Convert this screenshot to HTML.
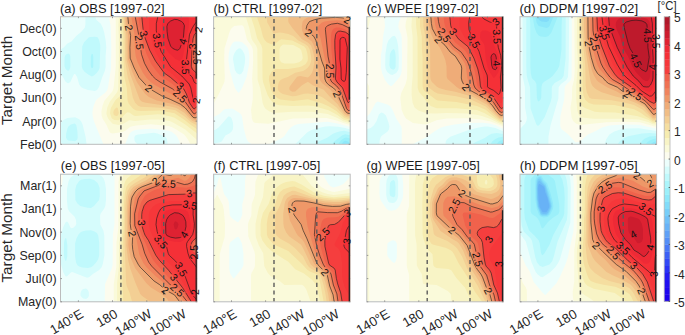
<!DOCTYPE html>
<html><head><meta charset="utf-8"><style>
html,body{margin:0;padding:0;background:#fff;width:685px;height:335px;overflow:hidden}
svg{display:block}
.t{font-family:"Liberation Sans",sans-serif;font-size:12px;fill:#262626}
.ti{font-family:"Liberation Sans",sans-serif;font-size:13.6px;fill:#1a1a1a}
.tm{font-family:"Liberation Sans",sans-serif;font-size:15.3px;fill:#262626}
.ty{font-family:"Liberation Sans",sans-serif;font-size:12.4px;fill:#262626}
.tx{font-family:"Liberation Sans",sans-serif;font-size:13.2px;fill:#262626}
.tc{font-family:"Liberation Sans",sans-serif;font-size:12.6px;fill:#262626}
.cl{font-family:"Liberation Sans",sans-serif;font-size:10.5px;fill:#111}
</style></head><body>
<svg width="685" height="335" viewBox="0 0 685 335">
<defs></defs>
<clipPath id="ca"><rect x="60.5" y="16.7" width="136.6" height="127.6"/></clipPath>
<g clip-path="url(#ca)">
<rect x="60.5" y="16.7" width="136.6" height="127.6" fill="#acf5fb"/>
<path d="M61.5 16.7l135.6 0 0 127.6-136.6 0 0-127.6zM91.6 54.3l-.7 2-.1 8.9 .2 1.9 .9 1.1 1-.5 .4-1.5 0-8.9-.4-3.1-1-.4z" fill="#c0f9fc"/>
<path d="M61.5 16.7l135.6 0 0 127.6-136.6 0 0-127.6zM88.6 37.5l-4.5 4.7-1.9 4.2-.4 19.8 .7 2.9 2.3 3 4.2 3 2.9 1.3 2-.9 3-2.8 1.9-2.6 .8-2 .7-22.7-1-5-1.5-2.9-.9-.5-2-.2-4.9 .2zM66.3 54.3l-.9 1-.8 2-.1 8.9 1.1 2.9 1.8 1.5 1 .2 .9-.8 1.1-2.9-.1-10.8-.8-2-1.1-.8zM70.8 124.5l-2.4 1.9-1 2.1-1.2 4.9-.2 4 .9 2 1.5 1.1 6.8 .8 2-1.9 .5-2-.3-6-1-5.9-1.2-1.7-.9-.2z" fill="#d6fcfc"/>
<path d="M61.5 16.7l23.9 0 0 7.9-.5 3-3.8 4.3-4.9 4.1-4.8 5.4-4 2-3.7 4-3.2 2.2 0-32.9zM95.9 16.7l101.2 0 0 127.6-29.4 0-.9-5.9-1.7-2-7.6-3-3.6-.6-15.8 1.6-2.9 1-.9 2 .2 2.9 .7 1.6 2.1 2.4-50.7 0-1.1-7.9-2.9-11.9-1.4-3-2-2.2-4-2-7.8 .7-4 1.9-2.9 3.7 0-49.3 1.9 1.7 3 5.4 1.9 1.6 1.1 .2 2-1.2 2.9-6.6 1-1.4 .9 0 1.9 3 2.1 7.4 1.8 2.5 2.1 1.3 4.9 1.7 6.9 1.1 2.1-1.1 2-3 3.3-9.9 2.5-5.9 .8-4 0-10.8 .7-8.9-.6-6.7-1.5-8.2-1.5-4.9-1.9-3.9-4.6-4-.8-3zM61.5 143l1.6 1.3-2.6 0 0-2z" fill="#ecfefc"/>
<path d="M61.5 16.7l3.5 0-1.6 1.5-2.9 1.3 0-2.8zM108.7 16.7l88.4 0 0 127.6-17.1 0-.6-3-2.4-4.9-1.8-2-3.7-2.6-3.9-1.2-11.8-1.7-4.9-.2-14.7 1.1-4 1.4-1.6 1.2-1.5 2-4 9.9-21.7 0-9.4-22.8-1.3-4.9-.3-4 .9-5.9 2.4-5.9 1.8-2 8.2-6.5 1.6-2.4 .8-3 2.8-17.8 .4-21.7-.7-21.8z" fill="#fcfcee"/>
<path d="M116.5 16.7l80.6 0 0 127.6-6.6 0-3.2-5.9-3.2-4-7.8-4.9-4.8-2.5-2.9-1-17.7-1.7-14.7 1.3-5.9 1.1-4.9 4.1-3 1.3-9.8 1.5-2-.6-1-1.1-3.3-7.4-3.8-5.9-.9-3-.2-3.9 1.1-6 1.9-4.9 7.5-8.9 1.1-2 .7-3 2-19.8 0-46.4 0-4z" fill="#fafada"/>
<path d="M119.5 16.7l77.6 0 0 123.2-11.8-10.5-12.8-7.2-2.9-1.2-10.8-1.6-8.9 0-14.7 1.5-5.9-.7-5.9 3.6-4.9 1.3-5.9-1.3-3.8-4.2-1.6-3-.8-3 .8-5.9 2.6-5.9 7.5-9.9 .9-3 .6-30.7 0-21.7-.5-10.9 .6-8.9z" fill="#f8f4c6"/>
<path d="M121.4 16.7l75.7 0 0 116.9-11.8-9-10.8-6.8-3.9-1.4-8.9-1.9-3.9-.2-22.6 1.8-2-.8-3.9-2.7-2-.3-1.9 1.4-4.5 4.9-2.4 1.6-3.9-.1-2-1-1-1.1-1.5-4.4 .2-2.9 .7-3 4.5-7.8 5-4.1 1.5-2.9 .6-3-1.3-12.9 .2-39.5-.9-13.9 .2-6.9z" fill="#f6ecb0"/>
<path d="M122.4 16.7l74.7 0 0 112.6-6.9-4.7-5.9-4.8-9.8-6.6-14.7-2.7-18.7 .5-4.9-.4-3.1-1.9-4.3-5-1.2-2.9-.8-12.9-2.4-10.9-1-18.8 0-21.7-1.2-14.9-.1-4.9zM116.5 107.6l1 .2 .5 .9 .8 3.9-.4 2-.9 1.1-1 .4-1.9-.5-1-1.2-.3-1.8 .3-1.6 1-1.8z" fill="#f5dea0"/>
<path d="M123.4 16.7l73.7 0 0 108.9-5.9-3.3-6.9-6.1-8.8-5.9-14.8-2.6-20-1-2.6-1-3-2.9-2.2-5-2.3-10.9-2.9-9.9-2.5-15.8-.4-25.7z" fill="#f3cf94"/>
<path d="M125.4 16.7l71.7 0 0 105.7-2.9-.6-2-1.1-3.6-3.1-4.3-4.8-7.8-4.8-6.9-1.8-23.8-3.4-3.7-1.1-2.3-1.9-9.5-25.4-3.6-14.2-.3-24.7-1.9-18.8z" fill="#f1be86"/>
<path d="M126.3 16.7l70.8 0 0 103-2 .2-1.9-.6-4-3.7-4.9-5.8-5.9-3.7-7.8-2.6-13.8-3.1-7.9-3.3-3.7-3.2-7.1-9.9-1.7-3-4.2-9.6-4.1-12.2-.2-11.8 .4-10.9-2-14.8-.4-5z" fill="#efac78"/>
<path d="M128.3 16.7l68.8 0 0 100.3-2 .9-1.9-.5-7.9-9.4-4.9-3.8-9.8-4.7-8.9-3.7-10.8-6.3-3.9-3.2-7.9-8.6-4.9-9.7-4-9.8-.3-11.8 .7-9.9-2.3-13.9-.5-5.9z" fill="#ee9868"/>
<path d="M132.2 16.7l64.9 0 0 97.7-1.7 1.2-1.2 .3-1-.5-7.9-10.2-5.9-5.3-7.9-5.7-16.7-9.3-3.9-2.6-4.3-4.3-3.6-4.9-5.4-10.9-1.9-5.9-.9-7.9-.1-12.9-3.3-17.8-.1-1z" fill="#f0845e"/>
<path d="M136.2 16.7l60.9 0 0 33.7-.6 6.9 .6 6.8 0 47.5-2 1.9-.9 .3-1-.6-10.8-14.9-7.9-7.9-2-1.5-12.5-6.9-4.4-3-3.9-3.9-4.7-7-3.3-6.9-2.5-7.9-2.4-17.8-3.5-17.8-.1-1z" fill="#f07254"/>
<path d="M139.1 16.7l58 0 0 19.8-1.1 2-.9 3.9-.9 12.9 .1 11.8 1 2 1.8 1.6 0 38.3-2 1.9-.9 .4-1-.6-3-3.8-5.9-11.2-2.9-4-8.9-7.7-11.9-8-4.3-4.9-4.9-6.9-4.8-9.9-3.7-11.9-3.3-16.8-1.3-8.9z" fill="#f0624c"/>
<path d="M142.1 16.7l55 0 0 15.3-2.7 2.5-1.3 4-.8 6.9-1 20.8 .9 2.9 4.9 4.6 0 32.6-2 2.1-.9 .4-1-.5-2.6-3.6-5.2-12.8-2.1-3.4-12.7-11-6.3-4.4-9.5-13.2-5.1-9.6-4.7-12.5-2.1-10.2-1-8.9-.1-2z" fill="#f53e3e"/>
<path d="M148.9 16.7l48.2 0 0 11.4-2.9 2.5-1.5 1.9-1.7 5-2.3 27.7 .2 2.9 .8 2 7.4 7.4 0 25.4-2 2.6-.9 .6-1-.5-1.7-2.8-4-12.9-2.1-4-12.9-11.7-6.4-5.1-7.3-11.3-4.1-7.5-1.8-4.9-3.7-15.8z" fill="#f6373a"/>
<path d="M157.8 16.7l39.3 0 0 4.8-2 1.9-2.9 4.8-1.7 3.3-1.2 4-3.7 30.7 .1 2.9 1.1 3 5.4 4.9 2 5 .9 1 2 .8 0 12-1 1-1.9 4.4-1-2.2-2.4-11.1-1.7-3.9-7.3-8-11.8-9.8-7.3-11.9-2.6-5-2.1-6.9-1.8-12.8 .2-7z" fill="#f53037"/>
<path d="M164.7 16.7l23.7 0 .6 4.9-.5 7-1.5 5.9-3.7 20.4-.9 3-2 2.7-1 .2-3.9-1.8-6.9-6.3-2.4-3.4-2.5-5.9-1.4-5.9-.3-10.9 .9-5.9 1.3-4z" fill="#ee2a36"/>
<path d="M174.5 19.4l2.9 .2 4 1.8 1.9 1.7 1.1 2.5-1 11.9-.9 3.9-2.6 7-1.5 1.5-1 .3-1.9-.5-2.8-1.3-2.1-2.3-2.6-7.6-.9-7-.2-4.9 .8-3 2.9-2.6z" fill="#de2232"/>
<mask id="ma" maskUnits="userSpaceOnUse" x="55.5" y="11.7" width="146.6" height="137.6"><rect x="55.5" y="11.7" width="146.6" height="137.6" fill="#fff"/><rect x="-3.8" y="-4" width="7.6" height="8" transform="translate(129.0,27.6) rotate(80)" fill="#000"/><rect x="-3.8" y="-4" width="7.6" height="8" transform="translate(144.0,33.5) rotate(78)" fill="#000"/><rect x="-7.9" y="-4" width="15.8" height="8" transform="translate(139.5,42.4) rotate(84)" fill="#000"/><rect x="-7.9" y="-4" width="15.8" height="8" transform="translate(157.6,40.4) rotate(81)" fill="#000"/><rect x="-3.8" y="-4" width="7.6" height="8" transform="translate(182.5,41.4) rotate(-74)" fill="#000"/><rect x="-7.9" y="-4" width="15.8" height="8" transform="translate(185.6,67.1) rotate(89)" fill="#000"/><rect x="-3.8" y="-4" width="7.6" height="8" transform="translate(192.2,46.4) rotate(-87)" fill="#000"/><rect x="-7.9" y="-4" width="15.8" height="8" transform="translate(196.5,57.3) rotate(90)" fill="#000"/><rect x="-3.8" y="-4" width="7.6" height="8" transform="translate(148.9,88.0) rotate(38)" fill="#000"/><rect x="-3.8" y="-4" width="7.6" height="8" transform="translate(180.4,85.9) rotate(39)" fill="#000"/><rect x="-7.9" y="-4" width="15.8" height="8" transform="translate(180.2,95.8) rotate(45)" fill="#000"/><rect x="-3.8" y="-4" width="7.6" height="8" transform="translate(196.2,100.7) rotate(-80)" fill="#000"/><rect x="-3.8" y="-4" width="7.6" height="8" transform="translate(198.5,29.7) rotate(-80)" fill="#000"/></mask>
<path d="M197.1 117l-2 .9-1.9-.5-7.9-9.4-4.9-3.8-9.8-4.7-8.9-3.7-10.8-6.3-3.9-3.2-7.9-8.6-4.9-9.7-4-9.8-.3-10.8 .7-11.9-1.8-8.9-1-9.9M197.1 50.4l-.6 6.9 .6 6.8M197.1 111.6l-2 1.9-.9 .3-1-.6-7.9-11.3-5.9-6.8-6.9-6.2-12.5-6.9-4.4-3-3.1-3-4.3-5.9-3.7-6.9-3-8.9-2.7-18.8-3.6-18.8M197.1 32l-2.7 2.5-1.3 4-.8 6.9-1 20.8 .9 2.9 4.9 4.6M197.1 106.3l-2 2.1-.9 .4-1-.5-3.7-5.5-3.2-9-2.6-4.9-13.1-11.4-6.3-4.4-8.7-11.9-5.9-10.9-4.7-12.5-2-9.2-1.2-11.9M197.1 21.5l-2 1.9-2.9 4.8-2.7 6.3-3.9 32.6 .3 3 .9 2 5.4 4.9 2 5 .9 1 2 .8M197.1 95.8l-1 1-1.9 4.4-1-2.2-2.4-11.1-1.7-3.9-7.3-8-11.2-9.2-9.5-15.5-2.9-7.9-1.9-12.9 0-6.9 1.5-6.9M174.5 19.4l2.9 .2 4 1.8 1.9 1.7 1.1 2.5-1 11.9-.9 3.9-2.6 7-1.5 1.5-1 .3-1.9-.5-2.8-1.3-2.1-2.3-2.6-7.6-.9-7-.2-4.9 .8-3 2.9-2.6z" fill="none" stroke="#1a1a1a" stroke-width="0.6" mask="url(#ma)"/>
</g>
<clipPath id="cb"><rect x="213.6" y="16.7" width="136.6" height="127.6"/></clipPath>
<g clip-path="url(#cb)">
<rect x="213.6" y="16.7" width="136.6" height="127.6" fill="#8ee8fa"/>
<path d="M214.6 16.7l135.6 0 0 126.2-2.9-1.7-2-.4-2 1-1.8 2.5-127.9 0 0-127.6z" fill="#9cf0fa"/>
<path d="M214.6 16.7l135.6 0 0 121.9-3.9-1-2 .3-3.3 2.4-2.8 4-124.6 0 0-127.6z" fill="#acf5fb"/>
<path d="M214.6 16.7l135.6 0 0 118.5-4.9-.9-3 .9-7.8 6-2.2 3.1-118.7 0 0-127.6z" fill="#c0f9fc"/>
<path d="M214.6 16.7l135.6 0 0 115.5-5.9-1.4-3.9 .4-4.4 1.2-3.5 1.5-4.9 3.5-10.5 4.9-2.8 2-100.7 0 0-127.6z" fill="#d6fcfc"/>
<path d="M214.6 16.7l135.6 0 0 112.8-4.9-1.5-6.9-1.3-8.8-.5-4.3 .3-9.3 2-5.1 1.7-3.8 2.2-12 11.9-81.5 0 0-.7 5.9-1 2.4-1.3 3.5-5.8 3.9-2 2.4-2.1 1.1-1.9 .4-3-.3-4-1.2-3.9-1.4-1.8-2-.2-9.7 10.9-2.8 2-2.2 .7 0-113.5zM238.5 48.4l-2.2 1.9-1.9 3-1.1 3-.3 2.9 1.9 10.9 1.8 3 2.5 1.5 1.9-.7 2.1-2.8 1.6-7.9 .4-5-.7-3.9-2.1-4-2.3-2.1z" fill="#ecfefc"/>
<path d="M214.6 16.7l135.6 0 0 110.4-12.8-3.7-9.8-1.6-29.5 2.3-4.3 1.4-3 2-2.7 3-3.7 5.4-2 1.8-13.1 6.6-17.5 0-3.8-2.9-1.6-3-2.6-9.9-1.8-11.9-.9-2-1.9-1.9-6.9-4.3-6.9 .6-2 1-3.9 4-5.9 3.1 0-100.4zM235.2 41.4l-1.9 .9-1 1.1-2.2 4-1.3 5.9-.4 6.9 1.5 10.9 3.4 12.2 1.9 5.2 2 3.1 .7 .3 .3 .9 1-.2 0-.7 .9-.7 2-3.2 4.5-11 2.5-12.8 .3-7.9-1-7-.9-1.9-1.5-2-3.9-3.2-2.9-.7z" fill="#fcfcee"/>
<path d="M214.6 16.7l135.6 0 0 108.3-6.9-1.9-5.9-2.3-10.8-2.8-33.4 .6-24.6 5.2-12.7-.7-2-.6-1-1.2-1-2.7-.9-8.9 1.8-10.9 0-9.9-.7-9.9 1.1-18.8-.4-10.9-1-2.9-4.9-6.9-2.8-11.5-1-1.9-1-.8-3.9 .1-4 .6-2.9 2.5-1.6 3-5.2 16.9-.3 9.8 .6 19.8-.4 4-5.5 11.9-5.3 9.8 0-87z" fill="#fafada"/>
<path d="M246 16.7l104.2 0 0 106.5-6.9-1.9-5.9-3.2-9.8-4.1-15.7-2.2-19.7-.1-18.7 1.2-3.9-1.4-4.1-2.8-1.4-2-1.4-3.4-2.5-15.4-2.6-7.9-.3-31.6-1.2-3-3.2-4.2-1.4-2.7-2.3-10.9-3.5-10.9z" fill="#f8f4c6"/>
<path d="M250.9 16.7l99.3 0 0 104.7-6.9-2-5.9-4.3-8.8-4.8-14.8-4.2-5.9-.7-14.7 .5-13.8-.6-3.9-1-2.9-2.1-3-3.8-2.1-3.6-4.5-12.8-.5-4-.2-29.6-.9-3-4.2-6.9-2.5-9.9zM283.1 44.4l-2.6 2-1 2.9 0 9.9 1.6 3 3.3 1.4 9.8-.1 4.8-1.3 2.8-2 .9-2-.3-2.9-1.2-5-1.4-1.9-6.6-3.5z" fill="#f6ecb0"/>
<path d="M257.8 16.7l92.4 0 0 103-5.9-1.7-7.9-6.9-7.8-4.9-6.9-2.9-13.8-4-14.7 1.7-12.8-1.6-2.9-1.2-3.6-3.4-2.8-4.9-2.2-9.9 .3-4 2.2-3.9 2.1-1.9 2-1.1 12.8-.1 10.8-1.7 2.9-1 3.4-2.1 2.1-3 .4-3-.6-4.9-1.3-4.5-1.8-2.4-12-5.9-10.8-1.3-2 1-3.9 3.3-2 .9-2.9-.4-3.9-1.8-2.4-2.7-1.4-3-2-7.9-3.7-10.9-.2-1z" fill="#f5dea0"/>
<path d="M267.7 16.7l82.5 0 0 101.4-3.9-1-2-1-7.9-8.9-13.7-9.7-2-.9-6.9-2.3-5.9-.7-3.9 .2-7.9 2.3-3.9 .2-9.4-2.4-2.4-1.3-1.8-1.7-.8-2 .2-3.9 1-3 1.5-2 2.9-1.6 4.9-1.7 6.9-4 7.8-1.7 3-1.7 1.9-1.8 1.7-2.3 1.2-3 .5-3-.4-3.9-1.3-6-1.5-2.9-3.1-2.5-6.7-3.5-5.1-4.5-4.9-2-5.9-1.2-3-.1-5.9 .8-6.3-10.8-.4-5.9z" fill="#f3cf94"/>
<path d="M289.3 16.7l60.9 0 0 99.8-3.6-.9-2.3-1.6-6.9-10-7.5-7.2-6.2-7-11.3-4.8-4.5-3.2-5.9 3.4-6.8 6.4-3 .2-2.6-1.9-.4-2 .9-2 7-9.2 3-.6 7.8 1.4 2-1.8 2-2.8 1.1-2.8 1.1-5.9 .4-5-.8-4.9-1.6-5.9-1.2-3-3-2.8-5.9-3.3-9.3-10.7-4.1-6-.4-1.9 .3-4z" fill="#f1be86"/>
<path d="M307.9 17.2l1.2-.5 41.1 0 0 98.3-2.9-.5-2.4-1.9-5.5-10.1-6.1-9.6-2.6-3-8.7-6.9-2.2-3-.8-4-1.7-18.7-3.4-11.9-2.1-4-7.8-6-1.9-4.9-.3-3.9 .8-5 1.4-1.9z" fill="#efac78"/>
<path d="M327.6 17.7l14.7 .1 3 .8 4.9 2.7 0 92.3-2.9-.5-2.3-2.4-9.7-20.8-2-2-4.7-3.1-2.6-2.8-1.1-3-.4-10.9-2.7-6.9-6-21.1-2-3.7-6.2-4.9-1.3-1.9-.1-2 .8-2.3 1.4-2.7 1.5-1.3 9.8-2.9z" fill="#ee9868"/>
<path d="M329.6 20.7l7.8-.5 4 .5 2.7 .9 6.1 3.5 0 87.1-2-.1-.9-.4-1.5-2-5.4-14-3.4-6.8-1.6-2-5.5-3.9-1.9-3-.6-13.8-2.5-7-4.3-20.7-2.9-8-.2-1.9 1.1-3 3.3-3 2.7-1.1z" fill="#f0845e"/>
<path d="M334.5 23.6l2.9-.3 3 .5 9.8 4.7 0 81.9-1 .2-1-.1-.9-.8-1-1.9-4.9-14.2-2.3-4.7-2.7-3.2-4.6-3.7-1.4-3-.2-11.9-2.2-10.8-2.6-26.7 .3-2 1.8-2 3-1.2z" fill="#f07254"/>
<path d="M336.4 27.5l3 0 4.9 1.6 5.9 3 0 75.1-1 .6-1 0-.9-1.4-6.2-17.5-2.4-3-5-4.9-.8-2 .3-11.9-1.8-16.8-.5-13.8 .6-4 1-2.5 1.4-1.4z" fill="#f0624c"/>
<path d="M338.4 31.3l2-.2 4.9 1 2.9 1.9 2 2.5 0 64.1-1 1.6-1 .5-.9-1.6-4.7-13.2-5.6-5.9-1.6-3 .6-11.9-1.1-17.8 0-10.8 1.2-5z" fill="#f53e3e"/>
<path d="M339.4 34.3l3.9-.2 3 1.3 1.5 2.1 1 3.9 .4 7-.5 21.7 1 8.9 0 4-.7 7.9-.8 1.9-.9 .4-3.6-7.3-4.3-4-1.5-2.9 .3-10.9-.9-17.8 0-10.8 .4-3z" fill="#f6373a"/>
<path d="M342.3 37.4l2 .2 1 1.2 2 8.6-1 25-.9 7.6-1.1 1.5-2-.9-1.1-1.6-.2-10.9-1.1-8.9 .1-18.8 .5-1.9z" fill="#f53037"/>
<mask id="mb" maskUnits="userSpaceOnUse" x="208.6" y="11.7" width="146.6" height="137.6"><rect x="208.6" y="11.7" width="146.6" height="137.6" fill="#fff"/><rect x="-3.8" y="-4" width="7.6" height="8" transform="translate(308.8,32.5) rotate(39)" fill="#000"/><rect x="-3.8" y="-4" width="7.6" height="8" transform="translate(347.4,19.7) rotate(29)" fill="#000"/><rect x="-7.9" y="-4" width="15.8" height="8" transform="translate(330.3,71.1) rotate(90)" fill="#000"/><rect x="-3.8" y="-4" width="7.6" height="8" transform="translate(337.2,93.9) rotate(65)" fill="#000"/></mask>
<path d="M350.2 113.6l-2.9-.5-2.3-2.4-9.7-20.8-2-2-4.7-3.1-2.6-2.8-1.1-3-.4-10.9-2.7-6.9-5.9-20.8-2.1-4-6.2-4.9-.9-1-.5-1.9 .8-3.3 2.4-3.7 5.1-1.9 7.2-1.6 13.8-.7 6.8 .4 3 .8 4.9 2.7M350.2 110.4l-2 .1-1.5-1.8-5.3-15.1-2.3-4.7-2.7-3.2-4.6-3.7-1.2-2-.4-12.9-2.2-10.8-2.6-26.7 .3-2 1.9-2 3.9-1.5 5.9-.8 4.9 1.3 7.9 3.9M350.2 100.6l-1 1.6-1 .5-.9-1.6-4.7-13.2-5.6-5.9-1.6-3 .6-11.9-1.1-17.8-.1-8.9 .8-5.9 1.1-2 1.7-1.2 2-.2 4.9 1 2.9 1.9 2 2.5M342.3 37.4l2 .2 1 1.2 2 8.6-1 25-.9 7.6-1.1 1.5-2-.9-1.1-1.6-.2-10.9-1.1-8.9 .1-18.8 .5-1.9z" fill="none" stroke="#1a1a1a" stroke-width="0.6" mask="url(#mb)"/>
</g>
<clipPath id="cc"><rect x="366.8" y="16.7" width="136.6" height="127.6"/></clipPath>
<g clip-path="url(#cc)">
<rect x="366.8" y="16.7" width="136.6" height="127.6" fill="#8ee8fa"/>
<path d="M367.8 16.7l135.6 0 0 125.3-2 1.1-1 1.2-133.6 0 0-127.6z" fill="#9cf0fa"/>
<path d="M367.8 16.7l135.6 0 0 122.7-4.4 1.9-2.5 3-129.7 0 0-127.6z" fill="#acf5fb"/>
<path d="M367.8 16.7l135.6 0 0 120.1-4.9 .8-3 1.3-3.1 2.4-1.9 3-123.7 0 0-127.6z" fill="#c0f9fc"/>
<path d="M367.8 16.7l135.6 0 0 117.4-6.9-1.2-4.9 .9-2.9 1.4-4 2.8-9.4 4.3-3 2-105.5 0 0-127.6zM393 49.3l-1.8 2-1.3 3-.5 10.9 .8 2.9 1.2 1 1.9 .6 1.3-.6 1-2 .1-9.8-.4-4.8-.7-2.2-.3-.8-1-.4z" fill="#d6fcfc"/>
<path d="M367.8 16.7l135.6 0 0 114.7-7.9-3.3-7.8-1.5-3-.1-6.2 1-11.2 3-17 6.2-3.4 2.7-1.1 1.9-.4 3-66.1 0 .4-4 .9-2.9 .9-1.3 6.1-4.7 1.3-1.9 .5-3-.9-4-2.6-6.9-2.4-2.4-2-.6-.9 .3-1.7 1.7-2.3 6.4-2.9 4.4-3 2.5-3.9 1.3 0-112.5zM392.1 36.5l-3.7 4-1.5 3.9-1.5 9.9-.2 10.9 .4 3.9 1.6 3 3.2 2.5 2 .4 3.8-1.9 2-3 .5-3 .1-9.8-.6-10.9-1.4-6.9-1.5-3.1-1-.6z" fill="#ecfefc"/>
<path d="M367.8 16.7l16.5 0 .7 9.9-1.8 8.9-1.1 12.9-1.2 6.9 0 12.8 1.2 5 2.9 6.9 3.4 4.4 2 1.5 1 .1 1.9-1.6 6.4-7.4 1.4-2.9 .6-3 .3-13.8-.3-19.8-.5-3-2.5-5.9-.4-2 .5-4 2.3-5.9 102.3 0 0 112.2-7.9-3.7-6.3-1.7-6.4-.8-15.8 .3-12.7 1.5-8.9 1.8-4.9 1.5-6.2 3.6-7.6 5.7-14.2 7.2-10.8 0 .1-14.8-.4-3-5.2-7.9-3.8-9-2-3.4-3-1.7-9.8-2.9-2 1.5-5.7 10.5-3.1 3.1 0-100z" fill="#fcfcee"/>
<path d="M367.8 16.7l2.7 0-1.7 8.8-2 4.4 0-13.2zM408.1 16.7l95.3 0 0 109.9-12.8-5.2-10.8-2.2-13.7-1-19.7 .3-9.8 1.8-9.9 4-1.9 .2-11.8-1.4-7.1-4.5-2.3-4-2-4.9-1.3-11.9 .9-4.9 4.4-8.9 1.5-6 .4-40.5-2.1-10.9 .4-4 1.5-5.9zM367.1 83l1.9 2.9 .2 3-.6 8.9-1.8 4.6 0-19.8z" fill="#fafada"/>
<path d="M412 16.7l91.4 0 0 108-3.9-1.1-8.9-4.6-8.8-3.1-4-.9-10.8-1.4-8.8-.4-11.8-.1-10.8 .5-8.9-.3-7.8-2.6-4.2-3-2.1-4.9-1-8 .1-7.9 1-10.9-.1-39.5-1.2-9.9z" fill="#f8f4c6"/>
<path d="M416.9 16.7l86.5 0 0 106.3-3.9-.9-14.8-8.9-7.8-3.1-20.7-1.9-19.6 0-5.9-2.3-3.5-3.1-4-6-4.2-4.9-1.3-4-.2-50.4-1.4-11.9 0-8.9z" fill="#f6ecb0"/>
<path d="M420.9 16.7l82.5 0 0 104.6-2 0-1.9-.6-4.9-3.5-8.9-7.4-8.8-3.9-20.7-3.8-18.6-1.7-2-.9-11.1-8.6-1.3-2-.6-3 0-28.6-.7-8.9-.1-11.9-1.8-9.9 0-9.9z" fill="#f5dea0"/>
<path d="M423.8 16.7l79.6 0 0 103-2.9 .1-2-1.2-12.8-12.1-13.7-6.4-15.8-3.9-18.6-2.6-3-1.5-5.9-4.7-1.2-2.4-.7-5-.1-24.7-1.3-18.8-2-9.9-.3-9.9z" fill="#f3cf94"/>
<path d="M425.8 16.7l77.6 0 0 101.4-2 .3-1.9-.5-12.8-13.4-14.7-8.1-16.8-4.6-9.4-1.9-6.8-2-2.4-1.3-4.9-4.8-1-2.2-.4-2.6-.2-29.6-3.7-20.8z" fill="#f1be86"/>
<path d="M428.7 16.7l74.7 0 0 99.7-2 .5-1.9-.6-4-4.1-3.9-5.2-5.9-5.5-13.6-7.6-12.6-5-2.9-2-9-7.9-.9-2-.2-10.8-1.1-6-1.5-3.9-4.2-8.9-6.1-7.8-2.9-6.6-1.9-8.4-.6-7.9z" fill="#efac78"/>
<path d="M431.7 16.7l71.7 0 0 98.2-2 .5-1.9-.7-3.6-4-3.4-5-4.8-4.9-5.9-4.2-12.5-6.7-5.8-5.9-1.5-3-.7-3 .4-9.9-.6-2.7-5.7-9.1-6-5-4.3-5.9-6.4-5.9-2.3-3-3.3-6-1-2.9-1.3-9.9 0-1z" fill="#ee9868"/>
<path d="M434.6 16.7l68.8 0 0 96.7-2 .5-1.9-.8-6.9-9.6-4.9-4.9-3.9-2.8-8.9-4.9-3.6-3-1.6-2.9-2.4-7-1.3-10.9-1.2-3.9-6.1-8.9-1.5-1.5-5.2-3.5-4.3-5.9-5.2-4.9-3.6-5-2.2-3.9-1.4-4-1.1-6.9-.1-2z" fill="#f0845e"/>
<path d="M438.5 16.7l64.9 0 0 95.1-2 .6-1.9-1-5.9-8.9-4-4.3-2.9-2.4-8.5-4.9-3.2-3-1.2-2.9-1.5-8-3-10.8-2-5-6-8.9-7.7-5.9-3.7-5-4.4-4.9-3.4-5-1.6-2.9-1.5-5-1.1-5.9 0-1z" fill="#f07254"/>
<path d="M444.4 16.7l59 0 0 93.4-2 .6-.9-.3-1.5-1.7-4.9-7.9-3.4-4-2.6-2-6.8-3.9-3.2-3-1-2.9-2.4-13.9-3.5-9.9-5.5-9.9-2.8-2.9-7.7-6-8-10.9-1.8-3.9-1.2-5-.6-5.9z" fill="#f0624c"/>
<path d="M450.3 16.7l53.1 0 0 90.8-1 .7-1 .3-.9-.5-5.8-9.2-2.4-3-2.6-1.9-5.5-3-3.1-3-.7-2-.9-8.9-1.7-8-3.9-10.8-5.9-11.5-9.8-8-6.2-9.1-.9-2-.8-4.2-.5-6.7z" fill="#f53e3e"/>
<path d="M460.2 16.7l41.5 0-1 3-.6 3.9-.1 13.9 1 9.9 2.4 9.3 0 44-2 2.5-.9-.1-2-1.8-3-4.9-2.1-2.5-2.8-1.9-4.7-2.1-1.9-2-.5-2-.4-10.8-6.8-19.8-5.2-10.9-6.5-6.9-4.3-7.9-.6-3-.1-5.9-.1-4z" fill="#f6373a"/>
<path d="M470 16.7l11.8 0 1 1.3 1.9 1.5 5.9 2.9 4 .6 .9 .5 .8 1.1 1.5 19.8 2.9 10.9 .8 8.9 0 4.9-1.2 8.9 .7 9.9-1.1 5-.4 .9-1 .7-4.9-4.1-5.1-2.5-1-1 0-8.9-.4-2.9-3.1-7-5-16.8-7.5-14.8-2.5-6.9-.3-8z" fill="#f53037"/>
<path d="M482.8 30.5l2.9-.1 2 .5 2.9 1.5 .7 1.1 2.5 10.9 4.9 11.9 1 7.9-.2 5.1-1.6 3.8-3.3 4.5-1 .4-3-4.5-2.7-5.4-2.1-8.9-1.3-13.8-.8-2-2.9-3.7-.8-2.2 .5-5 1.3-1.6z" fill="#ee2a36"/>
<path d="M492.6 54.2l1-.5 1 .2 .9 1.1 .7 2.3 .9 8.9-.6 2.6-1 .8-2.1-.5-.8-1-.9-2.9-.7-7.9 .6-2z" fill="#de2232"/>
<mask id="mc" maskUnits="userSpaceOnUse" x="361.8" y="11.7" width="146.6" height="137.6"><rect x="361.8" y="11.7" width="146.6" height="137.6" fill="#fff"/><rect x="-3.8" y="-4" width="7.6" height="8" transform="translate(438.5,39.3) rotate(49)" fill="#000"/><rect x="-7.9" y="-4" width="15.8" height="8" transform="translate(444.4,35.0) rotate(55)" fill="#000"/><rect x="-3.8" y="-4" width="7.6" height="8" transform="translate(453.3,31.5) rotate(56)" fill="#000"/><rect x="-7.9" y="-4" width="15.8" height="8" transform="translate(473.9,40.8) rotate(61)" fill="#000"/><rect x="-3.8" y="-4" width="7.6" height="8" transform="translate(497.0,63.2) rotate(85)" fill="#000"/><rect x="-3.8" y="-4" width="7.6" height="8" transform="translate(495.8,21.7) rotate(-40)" fill="#000"/><rect x="-3.8" y="-4" width="7.6" height="8" transform="translate(466.1,86.9) rotate(47)" fill="#000"/><rect x="-7.9" y="-4" width="15.8" height="8" transform="translate(486.7,95.8) rotate(33)" fill="#000"/><rect x="-7.9" y="-4" width="15.8" height="8" transform="translate(497.1,36.5) rotate(87)" fill="#000"/></mask>
<path d="M503.4 114.9l-2 .5-1.9-.7-3.6-4-3.4-5-4.8-4.9-5.9-4.2-12.5-6.7-5.8-5.9-1.5-3-.7-3 .4-9.9-.6-2.7-5.7-9.1-5.1-4.1-5.2-6.8-6.4-5.9-2.1-2.8-4.3-8.1-.9-5-.6-6.9M503.4 111.8l-2 .6-1.9-1-5.9-8.9-4-4.3-2.9-2.4-8.5-4.9-3.2-3-1.2-2.9-1.5-8-3-10.8-2-5-6-8.9-7.7-5.9-10.2-12.9-2.4-3.9-1.3-3-1.2-5-.6-4.9M503.4 107.5l-2 1-.9-.5-7.9-11.9-2.9-2.2-5.5-3-3.1-3-.7-2-.9-8.9-1.7-8-3.9-10.8-5.9-11.5-9.8-8-6.2-9.1-1.3-4-.9-8.9M481.8 16.7l1.9 2.2 5.9 3 5.9 1.6 1 1.8 1.2 18.1 .6 4 2.4 7.9 .9 9.9-.2 4.4-1 7.4 .6 10.9-1.1 5-.4 .9-1 .7-4.9-4.1-5.1-2.5-1-1 0-8.9-.4-2.9-3.1-7-5-16.8-7.5-14.8-2.5-6.9-.3-7 1-5.9M492.6 54.2l1-.5 1 .2 .9 1.1 .7 2.3 .9 8.9-.6 2.6-1 .8-2.1-.5-.8-1-.9-2.9-.7-7.9 .6-2z" fill="none" stroke="#1a1a1a" stroke-width="0.6" mask="url(#mc)"/>
</g>
<clipPath id="cd"><rect x="520.0" y="16.7" width="136.6" height="127.6"/></clipPath>
<g clip-path="url(#cd)">
<rect x="520.0" y="16.7" width="136.6" height="127.6" fill="#78cef8"/>
<path d="M521 16.7l19.9 0 4.7 .6 1.7-.6 109.3 0 0 127.6-136.6 0 0-127.6z" fill="#82dcf9"/>
<path d="M521 16.7l16.6 0 1.1 2.9 1 1 1.9 .8 4.9 .7 2-1.1 2.2-4.3 105.9 0 0 127.1-.9 .5-135.7 0 0-127.6z" fill="#8ee8fa"/>
<path d="M521 16.7l14.4 0 1.3 6.1 2 3.3 7.8 2 2-.8 1-1.3 3.9-9.3 103.2 0 0 124.2-3.5 1.4-2.2 2-130.9 0 0-127.6z" fill="#9cf0fa"/>
<path d="M521 16.7l11.7 0 1.8 10.9 2.2 5.5 2 2.3 1.9 1.2 5 .3 2.9-.9 2.9-3.5 6.3-15.8 98.9 0 0 121.6-3.9 .9-3 1.3-2.4 1.8-1.4 2-125.9 0 0-127.6z" fill="#acf5fb"/>
<path d="M521 16.7l8.7 0 .6 7.9 .1 42.5 .4 5.9 1 4.9 1 1.4 2.1 1.7 1.5 3 .5 13.8 .8 3 1 .6 1.7-1.6 .8-2 .3-10.9 .7-2.9 1.6-2 5.7-3.4 3.1-2.6 4.7-5.9 2-4.1 2.2-16.7 .1-24.7 .5-7.9 94.5 0 0 119.2-6.9 .7-4.9 1.8-2.9 2.7-1.3 3.2-120.6 0 0-127.6z" fill="#c0f9fc"/>
<path d="M521 16.7l5.3 0 0 50.4 .4 8 .8 3.9 2.5 7.9 .6 21.8 5.1 14.1 1 2.1 1 .9 1-.2 1-1 4.9-7.4 6.1-15.4 1-4 .1-9.9 .4-2 2.5-2.9 7-4 1.9-3 2-17.8 .1-41.5 90.9 0 0 116.7-6.9-.3-7.8 .4-13.8 2.7-4.9 2.2-3.4 2.9-2.2 3-97.6 0 0-127.6z" fill="#d6fcfc"/>
<path d="M521 16.7l1.6 0 .1 60.3 2.2 9.9 .2 20.8 1.8 9.9-.4 3-1.3 2.9-5.2 5.4 0-112.2zM569.1 16.7l87.5 0 0 114.4-17.7-2.8-12.9 .2-5.7 1-6 2-4.9 3.1-3.3 4.8-1.3 4.9-56.4 0 .1-7.9 2-10.9 7.8-26.7 .4-11.9 2.3-2.9 5.3-4 1.7-3 .8-17.8z" fill="#ecfefc"/>
<path d="M572.1 16.7l84.5 0 0 112.1-17.7-4.1-14.7-.3-15.2 1.1-6.9 2-6.4 3.6-7.6 3.3-3.9 3-2.3 2.7-.8 .2-.2 .8-.8 .2-.2 .9-.9 .1-4 0-.2-1-.7-.1-.3-.9-.7-.2-.3-.7-4.5-5-7-5.5-1-2.6 0-9.7 4-17.8 .4-11.9 1.2-1.9 4.2-4 1.1-2 .4-2 .2-60.3z" fill="#fcfcee"/>
<path d="M575 16.7l81.6 0 0 110.1-3.9-.8-12.8-3.8-14.7-.5-18.7 .6-26.6 2.8-3.9-1.6-2.9-2.4-1.5-3.5-1.2-9.9 1.5-8.9 .3-11.9 1.8-6.9 .7-9.9-.4-53.4z" fill="#fafada"/>
<path d="M577 16.7l79.6 0 0 108.1-3.9-.5-4-2-9.8-2.8-18.7-.8-26.5 0-11.8-1.2-2-.8-.9-1.1-1.7-4.9-1-11.9 0-13.8 1.4-18.8-.1-9.9-.8-9.9z" fill="#f8f4c6"/>
<path d="M579 16.7l77.6 0 0 106.4-3.9-.4-4-2.6-10.8-3.9-22.6-3.7-14.7-.2-5.9-.6-9.8-3.8-3-1.9-1-1.2-1-3-.6-6 .1-13.8 .9-15.8-1.2-20.8z" fill="#f6ecb0"/>
<path d="M580.9 16.7l75.7 0 0 104.6-2 .3-1.9-.4-4-3.3-2.9-1.4-5.9-4.2-5.9-3.1-19.7-4.1-20.6-.6-4.9-1.5-3.6-3.2-1.7-4-.9-6.9 .2-23.7-1.6-18.8-.9-19.8 0-9.9z" fill="#f5dea0"/>
<path d="M582.9 16.7l73.7 0 0 102.8-2 .6-1.9-.5-9.9-9.8-8.8-4.8-9.8-2.6-12.8-2.1-19.7-1.5-1.9-.9-1-1.1-2.1-4.9-1-6-.5-20.7-1.8-17.8-1.4-19.8-.1-10.9z" fill="#f3cf94"/>
<path d="M583.9 16.7l72.7 0 0 100.8-2 .9-1.9-.5-8.9-10.8-8.8-4.6-10.8-4-7.8-1.7-14.8-4.5-5.9-3.4-3.2-3-1.4-2.9-1-4-4.5-28.7-1.8-22.7z" fill="#f1be86"/>
<path d="M585.8 16.7l70.8 0 0 98.6-2.9 1.2-1-.6-6.9-9.2-2-1.8-4.9-2.4-4.9-3.1-13.1-5.5-4.6-2.6-8.8-3.9-8.9-5.5-2-1.9-2.9-5.1-1.9-4.8-4-17.9-1.5-13.7z" fill="#efac78"/>
<path d="M588.8 16.7l67.8 0 0 96.2-2 1.3-.9 .2-1-.7-7.9-9.9-5.4-3-5.4-3.8-11.8-6-4.9-3.8-8.9-3.8-2.8-2.4-3.1-3.6-3.9-2.8-1.3-1.5-2.4-4-1.2-3.1-2.7-9.7-1.9-9.9-.9-7.9-.3-10.9 0-10.9z" fill="#ee9868"/>
<path d="M590.8 16.7l65.8 0 0 93.7-2 1.4-.9 .2-1-.6-5.3-6.7-2.6-2.5-4.9-3-4.9-3.8-10-5.5-6.7-4.9-5.9-2.6-3-2-9.8-11.3-2-3.6-1.9-5.7-2.4-8.5-1.6-7.9-1.3-13.8-.1-12.9z" fill="#f0845e"/>
<path d="M592.7 16.7l63.9 0 0 90.9-2 1.5-.9 .3-1-.6-6.9-7.4-10.2-7.5-7.5-4.5-7.9-5.5-7.8-4.4-3.4-3.5-4.9-6.9-2.3-3.9-1.6-4-3-8.9-2.3-8.9-1.9-12.9z" fill="#f07254"/>
<path d="M595.7 16.7l60.9 0 0 88.1-2 1.4-.9 .3-1-.5-6.9-6.2-9.8-7.6-12.8-8.7-7.9-4.7-2.8-2.8-4.4-5.9-2.7-4.9-4.1-10.9-4.3-13.9-2.1-13.8-.1-9.9z" fill="#f0624c"/>
<path d="M597.6 16.7l59 0 0 85.3-2.9 1.3-4-1.9-14.7-11.9-16.8-11.5-3.5-3.9-5.6-8.9-6.4-15.9-2.8-8.9-2.8-13.8-.2-9.9z" fill="#f53e3e"/>
<path d="M599.6 16.7l57 0 0 81.6-3.9 1.5-3-.6-17.7-14.3-10.6-7.9-3.4-3.9-5.2-8.9-8-18.8-4.5-16.8-.9-7.9-.1-4z" fill="#f6373a"/>
<path d="M602.5 16.7l54.1 0-1.1 22.8 .1 9.8 1 9.8 0 30.7-2.7 4.1-2.2 2-2 .3-7.8-5-5.9-5.8-10.2-8.4-4.2-4.9-5-8.9-8.3-17.8-5-17.8-1.4-9.9 0-1z" fill="#f53037"/>
<path d="M605.5 16.7l49.2 0-.8 23.7 .9 21.8 .1 16.8-.5 4-1.2 3.9-1.5 3-1.9 2-6-1.9-1.9-1.1-4.2-4.9-7.9-7-5.4-6.9-10.1-19.8-3.3-7.9-4.9-15.8-1.3-9.9z" fill="#ee2a36"/>
<path d="M609.4 16.7l41.8 0 1.2 6.9-.1 18.8 .8 14.9 0 19.7-.4 3.3-1 2.6-2 3.2-1 .7-3.9 .1-2-.7-3.9-5-5.7-5.2-6.1-8.7-9.8-19.6-6.9-18.2-1.1-3.9-.6-6.9-.1-2z" fill="#de2232"/>
<path d="M621.2 17.5l3.6-.8 15.3 0 6.7 2.1 1.2 .9 1.4 1.9 .9 6 1 31.6-1.1 16.8-.8 3-1.6 2-2-.1-3-1.5-7-7.3-3.6-5.9-4.2-9.9-4.9-7.9-2.9-11.3-3.5-7.5-1-4 .3-3 .8-1.9 2-2z" fill="#cd1c2e"/>
<path d="M631 20.6l5-.5 5.9 .8 3.6 1.7 1.4 2 .9 7.9 .1 14.9 1.3 9.9-1.9 11.8-.5 1.7-1 .8-3.9-1.8-2-2-3.9-7.4-3-7.1-3-4.9-2.1-6-3.7-14.8-.3-3 .5-1 1.7-1.5z" fill="#be1a2c"/>
<mask id="md" maskUnits="userSpaceOnUse" x="515.0" y="11.7" width="146.6" height="137.6"><rect x="515.0" y="11.7" width="146.6" height="137.6" fill="#fff"/><rect x="-3.8" y="-4" width="7.6" height="8" transform="translate(588.7,43.4) rotate(83)" fill="#000"/><rect x="-7.9" y="-4" width="15.8" height="8" transform="translate(594.9,43.4) rotate(77)" fill="#000"/><rect x="-3.8" y="-4" width="7.6" height="8" transform="translate(598.6,35.4) rotate(78)" fill="#000"/><rect x="-7.9" y="-4" width="15.8" height="8" transform="translate(604.5,32.6) rotate(74)" fill="#000"/><rect x="-3.8" y="-4" width="7.6" height="8" transform="translate(610.4,29.6) rotate(70)" fill="#000"/><rect x="-7.9" y="-4" width="15.8" height="8" transform="translate(647.9,35.5) rotate(89)" fill="#000"/><rect x="-7.9" y="-4" width="15.8" height="8" transform="translate(635.9,60.2) rotate(65)" fill="#000"/><rect x="-3.8" y="-4" width="7.6" height="8" transform="translate(627.1,93.7) rotate(28)" fill="#000"/><rect x="-7.9" y="-4" width="15.8" height="8" transform="translate(635.6,93.9) rotate(35)" fill="#000"/><rect x="-7.9" y="-4" width="15.8" height="8" transform="translate(655.5,41.4) rotate(90)" fill="#000"/><rect x="-3.8" y="-4" width="7.6" height="8" transform="translate(653.0,67.1) rotate(-90)" fill="#000"/></mask>
<path d="M656.6 112.9l-2 1.3-.9 .2-1-.7-7.9-9.9-5.4-3-5.4-3.8-11.8-6-4.9-3.8-8.9-3.8-2.8-2.4-3.1-3.6-3.9-2.8-1.3-1.5-2.4-4-1.2-3.1-2.5-8.7-1.8-8.9-1.3-10.9-.2-20.8M656.6 107.6l-2 1.5-.9 .3-1-.6-6.9-7.4-9.8-7.3-7.9-4.7-7.9-5.5-7.8-4.4-2.6-2.5-3.7-4.9-3.3-5-1.9-3.9-5.6-17.8-2.3-14.9-.3-13.8M656.6 102l-2.9 1.3-4-1.9-14.7-11.9-16.8-11.5-3.5-3.9-5.3-8.1-7.8-20-2.3-7.5-1.8-8.9-.6-12.9M656.6 22.6l-.9 8.9-.2 8 .1 9.8 1 9.8M656.6 89.8l-3.6 5-1.3 1.1-2 .3-8.2-5.3-5.5-5.5-9.1-7.4-3.9-3.9-5.9-9.9-8.5-17.8-5.1-17.6-1.6-12.1M651.2 16.7l1.2 6.9 0 22.8 .7 10.9-.1 20.7-.6 3-1.9 4-1.8 1.8-1.9 .2-3-.3-1-.5-3.9-5-5.7-5.2-6.1-8.7-9.8-19.6-6.9-18.2-1.1-3.9-.7-8.9M631 20.6l5-.5 5.9 .8 3.6 1.7 1.4 2 .9 7.9 .1 14.9 1.3 9.9-1.9 11.8-.5 1.7-1 .8-3.9-1.8-2-2-3.9-7.4-3-7.1-3-4.9-2.1-6-3.7-14.8-.3-3 .5-1 1.7-1.5z" fill="none" stroke="#1a1a1a" stroke-width="0.6" mask="url(#md)"/>
</g>
<clipPath id="ce"><rect x="60.5" y="174.2" width="136.6" height="127.6"/></clipPath>
<g clip-path="url(#ce)">
<rect x="60.5" y="174.2" width="136.6" height="127.6" fill="#c0f9fc"/>
<path d="M61.5 174.2l135.6 0 0 127.6-136.6 0 0-127.6zM84.6 179.1l-3.5 .7-1.9 1.1-2.8 4.2-1.2 4.9 .2 9.9 1.8 3.4 3 2.6 7.2 1.9 3.6 .2 3-2.1 5.1-6 .7-3.9-.2-8-.8-2.6-1.2-2.3-3.5-3-4.1-1.4zM85.9 230.6l-3.8 .8-1.8 1.2-1.8 1.9-2.1 4-1.3 4.9 0 12.9 .9 5.9 1.4 3 1.8 1.3 2.9 1.1 5.9 .4 3-.7 1.9-1.3 3-3.2 2.3-3.5 1-4 0-12.8-1-7-1.3-2.4-2.4-1.5-3.5-1.4zM65.2 238.5l-.8 1.9-.4 3-.1 9.9 .5 5 1 2.7 1-.6 .9-4.1 .1-10.9-1-6.7-1-.6z" fill="#d6fcfc"/>
<path d="M61.5 174.2l13.7 0-4.4 3-2.2 3.9-1.6 7.9-.1 10.9 .9 8.9 1.5 2.8 5.3 5.1 1.3 3 .4 4-.7 1.9-.9 1-1.4 1.2-2 .4-1-.9-1.9-4.4-1-1.1-1-.1-1 .8-2.3 5.1-2.6 8.8 0-62.2zM97.8 174.2l99.3 0 0 127.6-136.6 0 0-39.1 2.9 9.7 2 3.8 1 .3 1-.4 2.9-3.1 1-.8 1-.1 14.7 5.6 2-.5 3.9-3.1 6.3-4 2.4-2.9 1.2-3.2 1.6-8.7-.1-19.8-.9-4.9-3.1-6-.2-8.9 .4-1.9 3.6-5 1.2-2.9 .7-6 0-10.9-1.1-6.9-1.4-3.9-1.7-2zM83.1 288.9l-1.2 1-1.1 2-.4 2 .2 2 2.5 2.5 3 .5 1.7-1.1 1.1-1.9-.1-4-.9-2-1.8-1.5z" fill="#ecfefc"/>
<path d="M61.5 174.2l1.5 0-.3 4.9-.6 5-1.6 4.2 0-14.1zM115.5 174.2l81.6 0 0 127.6-92.4 0 .4-17.8 6.5-14.9 1-3.9 .3-30.7 1.6-10.8 .1-49.5z" fill="#fcfcee"/>
<path d="M119.5 174.2l77.6 0 0 127.6-83.3 0 0-17.8 2.6-17.8 .1-23.7 1.8-14.9 .2-45.5z" fill="#fafada"/>
<path d="M123.4 174.7l.1-.5 73.6 0 0 127.6-80 0 0-18.8 1.8-16.8 .1-21.8 1.6-10.9 .5-45.5 .6-6.9z" fill="#f8f4c6"/>
<path d="M131.3 175.1l.8-.9 65 0 0 127.6-77 0-.3-17.8 1.1-16.8 .1-22.8 1.1-10.9 .2-28.6 .8-13.9 .9-5.9 1.4-4.2 1.9-2.7z" fill="#f6ecb0"/>
<path d="M141.1 174.5l.3-.3 55.7 0 0 127.6-73.9 0-.1-7.9-.7-8.9 .4-40.6 .9-17.8 .1-21.7 1.1-11.9 1.4-5.9 2-3.1 3-2.6 8-5.2z" fill="#f5dea0"/>
<path d="M148 174.8l.5-.6 48.6 0 0 127.6-65 0-2.4-8.9-3-6.9-.6-4-1.5-37.6 .7-36.6 .7-9.9 1.5-6.9 2.8-4.6 3.9-2.9 10.8-6.2z" fill="#f3cf94"/>
<path d="M153.9 174.9l.5-.7 42.7 0 0 127.6-47.4 0-2.1-2-5.5-3.7-2-2.3-5-11.8-4.8-13.2-2.3-9.5-1.7-13.9 .6-10.9-.2-22.7 1.4-15.8 2.2-5.5 3-3.4 2.9-1.9 10.4-5.1z" fill="#f1be86"/>
<path d="M157.8 175.1l.5-.9 38.8 0 0 127.6-28.1 0-1.9-3-5.5-4.9-10.7-6.4-4.7-4.5-11-14.8-4.4-9.9-2.1-9.9-.4-4 .7-9.9-.8-8.9 0-12.8 .9-11.9 1-4.9 2.1-4.3 3.4-3.7 3.5-1.9 11.4-5 4.3-2.9z" fill="#efac78"/>
<path d="M161.7 174.8l1-.6 1.7 0 5.2 1.2 1.7-.2 1.8-1 9.2 0 2 1.4 1 0 1.2-1.4 10.6 0 0 127.6-17.4 0-5.2-6.9-9-5-5.7-5.1-5-3.2-3-2.6-4.3-4.9-8.1-7.9-4.5-7.9-1.2-3-1.4-9.9 .4-10.9-1.9-5.9-.6-4 .3-17.8 .8-6.7 .8-3.1 3.1-5.1 2.8-2.9 4.1-2.2 11.8-4.5 2.9-2.3z" fill="#ee9868"/>
<path d="M191.2 174.2l5.9 0 0 127.6-12.7 0-7.9-9.5-9.9-6.2-4.9-5.1-5.9-4.7-9.3-9.1-3.1-4-4.2-8.9-3.7-20.8-2.8-6.9-.3-13.8 2.6-14.9 2.9-4.9 4.2-4 13.3-4.9 7.3-5.6 7.9 1.1 7.8-1.9 5.9 3 2-.2 2.9-2.4z" fill="#f0845e"/>
<path d="M196.1 174.2l1 0 0 127.6-9.8 0-7.8-9.9-3-2.8-6-4.1-18.8-18.8-3-4-4-8.9-2.6-8.9-7.3-18.8-.2-11.8 3.6-14.9 1.7-2.9 4.1-5.1 13.8-5.3 4.9-2.9 7.9 .9 6.8-1.1 6.9 2 3.5-.4 3.4-1.5 1.7-1.5 1.6-2.9 .9-4z" fill="#f07254"/>
<path d="M197.1 184l0 56.1-3.1 2.4-.8 2.9 1.2 3 2.7 1.7 0 51.7-7.7 0-8-11.6-7.8-7.2-17.2-18.8-3.8-4.9-3.7-7.5-3.2-8.4-3.3-5.9-4.2-10.9-.4-2.9 .1-9.9 3.2-11.6 3.7-6.2 2.2-2.1 7.4-3.9 9.3-2.9 13.7-.1 8.9 .7 5.9-1.4z" fill="#f0624c"/>
<path d="M193.2 193l3.9-.1 0 44-4.8 4.6-.9 1.9-.2 2 .5 3 1.5 3 3.9 2.9 0 47.5-5.7 0-9-14.3-12.8-16-8.5-9.3-4.3-5.4-8.3-16.3-3.5-5.4-2.9-8.4-.4-3 .4-12 1.9-5.9 2-2.8 2-1.8 4.9-1.9 15.7-4.7 15.7-.4z" fill="#f53e3e"/>
<path d="M166.6 201.8l5.9-.7 17.7 0 4 1 1.7 1.8 .9 2 .3 24.6-2.1 5-4.9 6-.9 3.9 .8 5 1.5 3.9 1.7 2.3 3.9 3.2 0 42-3.5 0-3.4-4.9-3.9-8.5-7.9-13.3-6.9-9.5-5.8-5.6-2.9-3.7-8.8-16.8-4.5-10.9-.7-4 0-9.8 .6-3 1.1-2 2.4-3 2.9-2.3 4-1.5z" fill="#f6373a"/>
<path d="M173.5 204.9l14.8-.2 3.9 .9 .9 1.2 0 8 1.3 8.9-.5 5.9-1.2 4.9-5.1 7-1.1 3.9 1.2 6.9 1.5 5.1 1.1 1.9 6.8 8.6 0 32.7-2.7-3.7-2.2-2.1-1-1.8-5.4-14.9-4.4-8.7-4.9-7.2-7.9-7.9-2.3-7.9-1.6-2-3-2.1-1.5-1.8-1.7-4-1.3-4.9-1.2-6 .2-4.9 1.2-5 2.4-5.5 1.9-2.2 2-1.3 4.9-1.3z" fill="#f53037"/>
<path d="M172.5 208.8l7.9 .1 4.9 1 2.5 1.9 1.4 4 1.4 8.8-.3 4-1.1 4.9-.9 2-2 2.6-3 2.4-2.9 1.6-5.9-.3-8.8-2-2.8-2.3-1.1-3-1-10.8 .6-4 1.7-4.9 1.6-2.8 1.4-1.2z" fill="#ee2a36"/>
<path d="M174.5 212.7l3.9 .4 4 1.9 2 2.7 1.4 4 .2 4.9-1.6 6.9-2 3-3 1.2-3.9 .4-4.9-.9-3.8-1.7-1-2-.2-9.8 1-4 1.8-3 2-1.9z" fill="#de2232"/>
<path d="M175.5 221.2l1.9 1.1 1.1 2.3-1.1 3.4-.9 1.2-1 .4-1-1-.8-4 .8-2.7z" fill="#cd1c2e"/>
<mask id="me" maskUnits="userSpaceOnUse" x="55.5" y="169.2" width="146.6" height="137.6"><rect x="55.5" y="169.2" width="146.6" height="137.6" fill="#fff"/><rect x="-3.8" y="-4" width="7.6" height="8" transform="translate(155.5,181.1) rotate(-38)" fill="#000"/><rect x="-7.9" y="-4" width="15.8" height="8" transform="translate(168.6,183.4) rotate(4)" fill="#000"/><rect x="-3.8" y="-4" width="7.6" height="8" transform="translate(189.2,193.3) rotate(-9)" fill="#000"/><rect x="-7.9" y="-4" width="15.8" height="8" transform="translate(189.8,204.9) rotate(11)" fill="#000"/><rect x="-3.8" y="-4" width="7.6" height="8" transform="translate(141.7,222.7) rotate(88)" fill="#000"/><rect x="-3.8" y="-4" width="7.6" height="8" transform="translate(132.5,233.5) rotate(79)" fill="#000"/><rect x="-3.8" y="-4" width="7.6" height="8" transform="translate(184.0,234.5) rotate(-59)" fill="#000"/><rect x="-7.9" y="-4" width="15.8" height="8" transform="translate(160.9,241.5) rotate(49)" fill="#000"/><rect x="-3.8" y="-4" width="7.6" height="8" transform="translate(165.5,289.9) rotate(35)" fill="#000"/><rect x="-7.9" y="-4" width="15.8" height="8" transform="translate(177.4,289.9) rotate(42)" fill="#000"/><rect x="-3.8" y="-4" width="7.6" height="8" transform="translate(174.1,277.1) rotate(52)" fill="#000"/><rect x="-7.9" y="-4" width="15.8" height="8" transform="translate(181.2,269.2) rotate(60)" fill="#000"/><rect x="-7.9" y="-4" width="15.8" height="8" transform="translate(194.5,252.2) rotate(-90)" fill="#000"/><rect x="-3.8" y="-4" width="7.6" height="8" transform="translate(195.5,292.2) rotate(-90)" fill="#000"/></mask>
<path d="M164.4 174.2l5.2 1.2 1.7-.2 1.8-1M182.3 174.2l2 1.4 1 0 1.2-1.4M179.7 301.8l-5.2-6.9-8.8-4.8-5.9-5.3-5.9-3.9-13.7-13.7-2.1-3-3.9-7.5-1.5-7.3-.4-5 .4-9.9-1.9-5.9-.6-4.9 .3-16.9 .8-6.7 .8-3.1 3.1-5.1 2.8-2.9 4.1-2.2 11.8-4.5 2.7-2.2 6.1-5.9M187.3 301.8l-7.8-9.9-3-2.8-6-4.1-18.8-18.8-3-4-4-8.9-2.6-8.9-7.3-18.8-.2-11.8 3.6-14.9 1.7-2.9 4.1-5.1 13.8-5.3 4.9-2.9 7.9 .9 6.8-1.1 6.9 2 3.5-.4 3.4-1.5 1.7-1.5 1.6-2.9 .9-4M197.1 236.9l-4.8 4.6-.9 1.9-.2 2 .5 3 1.5 3 3.9 2.9M191.4 301.8l-9-14.3-13.8-17.2-9.2-10-3.6-5-7.3-14.8-3.5-5.4-1-2.6-2.2-6.9-.1-10.8 .4-3.1 1.9-5.9 3-3.8 2.9-1.7 18.7-5.7 15.7-.4 6.9-1.2 5.9-.1M197.1 300.6l-2.7-3.7-2.2-2.1-1-1.8-5.8-15.9-5-9.4-4.8-6.5-6.4-5.9-1-2-1.5-5.9-1-2-4-3.1-1.9-2.6-2.6-8.1-1.2-7 .6-5.9 1.9-5.9 2.2-3.9 2.8-2.1 3.1-.9 5.9-1 15.8-.2 4.2 1.2 .7 1.1-.1 7.8 1.3 8.9-.3 4.9-1.4 5.9-5.1 7-.9 1.9-.1 3 1.4 6.9 1.7 5 7.4 9.6M174.5 212.7l3.9 .4 4 1.9 2 2.7 1.4 4 .2 4.9-1.6 6.9-2 3-3 1.2-3.9 .4-4.9-.9-3.8-1.7-1-2-.2-9.8 1-4 1.8-3 2-1.9z" fill="none" stroke="#1a1a1a" stroke-width="0.6" mask="url(#me)"/>
</g>
<clipPath id="cf"><rect x="213.6" y="174.2" width="136.6" height="127.6"/></clipPath>
<g clip-path="url(#cf)">
<rect x="213.6" y="174.2" width="136.6" height="127.6" fill="#d6fcfc"/>
<path d="M215.6 174.2l134.6 0 0 127.6-136.6 0 0-117.3 1-4.4 .5-5.9z" fill="#ecfefc"/>
<path d="M246 174.2l77.9 0 .7 3.3 3.8 6.6 2.1 2.2 3 1.3 5.5-1.5 4.3-2.2 4.1-3.8 2.8-4 0 125.7-136.6 0 0-108.8 3.4-7.9 1.5-6.1 1-1.9 1 1 3 13.9 .9 2.4 3.3 4.5 1.1 3 1 13.8 2.5 2.8 4.9 3.6 1 .1 2.5-3.5 1.5-3.9 .1-10.9 2.5-8.9 .2-13.9zM236.3 237.5l-6 4.7-1 3.2 0 23.8 1 4.5 3 4.9 .9-.3 6.9-8.8 2-3.3 .4-2-.1-10.9-1.5-9.9-2.7-5.7-1-.9z" fill="#fcfcee"/>
<path d="M258.8 174.2l56.2 0 .9 4.9 2.4 5 2.8 3 4.5 2.5 5.9 2 3 .4 15.7-3.2 0 113-99.2 0 0-26.7 .5-2 2.7-4.9 .7-2 .2-10.9-.7-3.9-6.1-14.9-.4-11.9 .7-2.9 2.7-6 .4-11.8 3.3-8.9 .4-12.9 2.8-7.9zM216.5 195.4l1-.4 5.3 9.9 1 4.9 1.2 13.9-.2 12.8-5.1 17.8-.1 47.5-6 0 0-102.2 1.7-1.7z" fill="#fafada"/>
<path d="M273.5 174.3l28.9-.1 9.4 11.9 3.9 2.9 7 3.5 4.8 1.5 6 1.1 16.7-2.2 0 108.9-39.6 0-4.1-11.9-1.5-2.5-2-2.1-1.9-.5-16.7 .2-4.7-4-9.1-4.9-2.8-3-3.5-6.9-1.1-12.9-4.3-7.9-3-7.9-.4-4 0-9.8 3.3-15.6 4.2-11.1 1.4-13.9 1.3-1.8 5.2-4.1z" fill="#f8f4c6"/>
<path d="M286.3 182.1l5.9-1 3 .5 6.8 3.2 11.8 7.5 9.9 3.5 9.8 1.4 16.7-1.5 0 106.1-30 0-3.4-15-2-3.5-2.6-3.3-8.2-6.5-8.8-4.2-6.9-7.6-6.9-4.1-9.8-6.7-4.9-4.5-4.3-5.9-1.8-5-.1-10.9 .6-4.9 1.9-6.9 5.6-8.9 3.3-9.9 2.5-4 2.8-2.9 3.2-2.6 3-1.6z" fill="#f6ecb0"/>
<path d="M290.3 186.9l3.9-.3 8.8 3.4 9.7 5 11 2.8 10.8 1 15.7-1.2 0 104.2-26.6 0-3.2-17.8-1.6-6.6-1-2-1.6-1.3-6.3-2.7-2.9-1.8-5-5.7-13.7-12.8-14.8-6.8-5.6-6.8-1-3-.1-10.8 .9-6 1.4-4.9 5.5-6.9 3.1-9.9 2.3-4 3.4-2.8z" fill="#f5dea0"/>
<path d="M292.2 190.8l3 .2 16.9 6 11.6 2.5 10.8 .9 6.9-.2 8.8-1.1 0 102.7-23.6 0-1-7.3-1.9-9.1-2.9-9.3-1.5-3-1.5-1.4-5.8-2.5-3.1-2.3-2-2.7-3.9-7.7-7.7-8.1-6-4.7-9.6-5.2-3.2-3-.7-2-.6-4.9 .2-14.8 4-7.1 4.2-10.7 2.7-2.6z" fill="#f3cf94"/>
<path d="M292.2 194.9l3-.1 23.6 5.4 6.8 1.2 7.9 .6 6.9 0 9.8-1.4 0 101.2-21 0-.9-6.9-3.1-12.9-1.7-4.9-2-4-2.7-2.9-5.2-3-3-3-6.6-14.2-2.9-5.2-11.7-8.3-3.2-3.9-2.2-5-.6-3.9-.2-9.9 1.4-9.9 .8-3 1.8-3z" fill="#f1be86"/>
<path d="M294.2 197.9l8.8 .7 19.7 4.3 9.8 1 7.9 0 9.8-1.8 0 99.7-18.5 0-1-6.9-2.6-7.9-1.9-8.9-1.3-3-3.2-4.3-5.6-4.6-2.4-3-9.4-20.7-2.1-3-4.1-3.8-1.6-2.2-6.5-12.8-1.9-7.9-.4-8.9 .6-2 1.6-2 2.3-1.4z" fill="#efac78"/>
<path d="M297.1 200.9l6.9 .2 9.8 1.8 9.9 2.6 8.8 .9 7.9-.2 5.9-1.8 3.9-.6 0 98-16.1 0-1-6.9-3.4-8.9-2.4-10.9-1.3-2-7.7-7.9-1.4-2-9.9-24.4-3.8-8.2-2.1-6.1-1.7-2.8-4.8-6-1-1.9-1.5-6 0-3.9 2.1-2.4z" fill="#ee9868"/>
<path d="M349.2 205.7l1-.1 0 96.2-14 0-1.2-7.9-3.6-8.9-2.5-10.9-1.3-2-5.7-5.9-2-3-2.1-4.5-4.1-11.3-6.1-20.8-1.6-10.9 0-2.9 .4-2 1.4-2 4.1-1.5 4.9-.1 8.8 1.5 11.8 .6 4-.8 4.9-2.1z" fill="#f0845e"/>
<path d="M348.2 207.8l2-.3 0 94.3-12.2 0-1.1-7.9-3.5-8.9-2.4-10.9-1.1-2-4.8-4.9-1.9-3-3.2-7.9-3.2-9.9-2.4-11.9 1.3-18.8 .9-2.9 1.2-1 9.8 .8 9.8 .1 4-1.4 4-2.5z" fill="#f07254"/>
<path d="M349.2 209.7l1-.2 0 92.3-10.5 0-1.3-8.9-3-7.9-2.6-11.9-1.8-3-4.2-3.9-2.7-6.9-3.5-12.9-1.1-8.9-.1-4.9 2.1-9.9 .8-2 1.4-1.6 3.9-1.6 7.9-.2 2.9-.6 3.9-2.6 4-3.5z" fill="#f0624c"/>
<path d="M347.3 212.8l2.9-.9 0 89.9-8.1 0-1.4-8.9-3-8.9-1.3-5.4-1.2-8.5-1.1-1.9-4.5-3-1-2-3.7-16.8-.1-4.9 1.7-10.9 2.1-5 1.9-.9 4-.3 3.9-2.2z" fill="#f53e3e"/>
<path d="M348.2 216.7l2-.9 0 81.8-5.5-10.6-2.2-8-.5-3.9 .2-11.9-1.8-10.9-2-3.7-2.9-2.2-1-2 .7-1.9 4.4-8 3.3-11.8 2.4-3.5z" fill="#f6373a"/>
<path d="M350.2 225l0 28.6-5.1-5.2-1-2-.3-2 2.6-13.8 1.8-3.7z" fill="#f53037"/>
<mask id="mf" maskUnits="userSpaceOnUse" x="208.6" y="169.2" width="146.6" height="137.6"><rect x="208.6" y="169.2" width="146.6" height="137.6" fill="#fff"/><rect x="-3.8" y="-4" width="7.6" height="8" transform="translate(292.5,209.8) rotate(77)" fill="#000"/><rect x="-7.9" y="-4" width="15.8" height="8" transform="translate(322.6,234.2) rotate(-45)" fill="#000"/><rect x="-3.8" y="-4" width="7.6" height="8" transform="translate(325.2,272.1) rotate(49)" fill="#000"/><rect x="-3.8" y="-4" width="7.6" height="8" transform="translate(346.6,241.2) rotate(-80)" fill="#000"/><rect x="-3.8" y="-4" width="7.6" height="8" transform="translate(347.2,212.8) rotate(-32)" fill="#000"/></mask>
<path d="M334.1 301.8l-1-6.9-3.4-8.9-2.4-10.9-2.1-3-6.9-6.9-1.9-3-9.4-23.4-3.8-8.2-2.1-6.1-7.1-9.7-1.5-5-.6-4.9 .7-2 1-1 1.6-.8 1.9-.2 6.9 .2 9.8 1.8 9.9 2.6 8.8 .9 7.9-.2 5.9-1.8 3.9-.6M338 301.8l-1.1-7.9-3.5-8.9-2.4-10.9-1.1-2-4.8-4.9-1.9-3-3.2-7.9-3.2-9.9-2.4-11.9 1.3-18.8 .9-2.9 1.2-1 9.8 .8 9.8 .1 4-1.4 4.9-2.9 3.9-.9M342.1 301.8l-1.4-8.9-3-8.9-1.3-5.4-1.2-8.5-1.1-1.9-4.5-3-1-2-3.7-16.8-.1-5.9 1.7-9.9 2.1-5 1.9-.9 4-.3 3.9-2.2 7.9-8.8 3.9-1.5M350.2 253.6l-5.1-5.2-1-2-.3-2 2.6-13.8 1.8-3.7 2-1.9" fill="none" stroke="#1a1a1a" stroke-width="0.6" mask="url(#mf)"/>
</g>
<clipPath id="cg"><rect x="366.8" y="174.2" width="136.6" height="127.6"/></clipPath>
<g clip-path="url(#cg)">
<rect x="366.8" y="174.2" width="136.6" height="127.6" fill="#c0f9fc"/>
<path d="M367.8 174.2l135.6 0 0 127.6-136.6 0 0-127.6zM393.3 180.1l-1.9 1-1.4 2-.4 7.9 .1 3 .7 1.9 2.9 1.4 1.1-.3 .9-2 .2-7.9-.4-5-.8-1.6z" fill="#d6fcfc"/>
<path d="M367.8 174.2l22.8 0-2.2 2-1.7 3.9-.5 4 0 10.9 .8 3.9 1.4 2.8 1 .9 3 .4 1.9-.2 2-1.8 1.1-2.1 .7-2.9 0-14.9-.8-3.7-1.5-3.2 107.6 0 0 127.6-136.6 0 0-127.6z" fill="#ecfefc"/>
<path d="M367.8 174.2l15.5 0-2.7 4-.9 2.9-.3 11.9 .5 4.9 1.2 3 5.4 7.9 1.9 1.5 3 .5 3.9-.8 2.8-2.2 1.9-2.9 2.5-6 .6-3.9 .1-10.9-1.1-9.9 101.3 0 0 127.6-136.6 0 0-127.6zM391.8 240.5l-3.4 1.9-1 1.4-.2 10.5 .5 2 1.3 2 3.4 3.6 1.9 1.1 1.4-1.8 1.1-3.9 .1-12.9-.5-1.9-1.1-1.6-2-.7z" fill="#fcfcee"/>
<path d="M367.8 174.2l1.5 0 0 127.6-2.5 0 0-127.6zM410 174.2l93.4 0 0 127.6-94.2 0-.1-26.7-2.1-7.9-.3-3 0-47.5 .1-2.9 2.3-7.9 .1-31.7z" fill="#fafada"/>
<path d="M416.9 174.2l86.5 0 0 127.6-51.9 0-.7-7.9-3-3-11.2-6-11.8-.6-1.2-.3-.7-1-1.1-8.9-4.2-6.9-.8-2-.2-20.8-1.5-8.9-.1-52.4 .8-5.9 .7-3z" fill="#f8f4c6"/>
<path d="M426.7 174.2l76.7 0 0 127.6-30.9 0-3.7-5.9-3.7-8.2-8.8-9.6-5-7.9-2.9-1.2-11.8-1.1-2-1-1.3-1.7-.8-10.9-4.7-4.9-1.3-2-3.2-8.9-.7-4-.3-30.6 .5-18.8 1.3-6 2.2-4.9zM485.5 180.1l-.8 3 1 1.5 1-.1 .7-1.4-.2-2-.5-1.1z" fill="#f6ecb0"/>
<path d="M437.6 174.8l.7-.6 38.3 0 .7 8.9 1.1 3 2.4 1.4 5.9 1.1 2.9-.6 2.2-.9 1.2-1 .9-2-.6-5-3.8-4.9 13.9 0 0 127.6-21.1 0-7.4-10-7.9-15.5-8.4-13.1-4.5-8.9-1.8-2.7-2-1.5-4.9-2.3-12.8-3.2-1.4-1.2-1.5-2.3-1.5-3.6-.5-3-.1-10.8-1.1-8.9 .3-14.9 1.8-12.8 1.3-5 2.5-3.9z" fill="#f5dea0"/>
<path d="M451.3 175.1l9.8-.5 8.3 2.6 2.6 1.9 3.7 8 1.8 1.9 3.3 1.3 6.9 .8 2.9-.2 2.7-.9 2.2-1.4 1.2-1.5 .7-2 0-4-.7-3.9-1.2-3 7.9 0 0 127.6-18 0-7.6-15.8-10.8-17.8-4.9-11.7-4.9-8.1-2.9-2.7-6.9-4.6-10.8-4.6-2-1.5-.9-1.5-1.3-8.9-2.5-8.9-.1-11.8 1.1-6 2.7-8.9 2.2-3.9 9.6-8.1 3-1.3z" fill="#f3cf94"/>
<path d="M499.5 174.2l3.9 0 0 127.6-15.7 0-1.2-4-7.7-16.9-9.4-14.7-6.3-15.7-3.9-6.8-2-1.9-4.9-2.8-11.8-8.1-6.9-10.7-1.1-2.5-.6-2.9 .1-11.9 1.1-4 4.5-9.9 .9-1.2 4-3 4.1-4.7 2.7-1.9 2-.6 4.9-.3 5.9 1.4 4 1.8 3.8 2.6 4 6.2 3 2.4 5.9 1.6 8.8 .8 4.9-2.2 2-1.7 1-1.7 .8-3.4 0-3-1.7-7.9z" fill="#f1be86"/>
<path d="M501.4 174.2l2 0 0 127.6-13.5 0-1.7-5.9-3.9-7.9-4-9.9-8.2-12.9-6.4-15.8-2.6-5-3.9-5.1-15.7-12-8.8-9.6-.9-3.9 0-9.9 .8-3.3 4.9-10.1 4.8-3.4 5-5.7 3-1.2 3.9-.1 3 1.1 4.8 3.9 6.4 6.9 3.5 2.2 16.7 4.7 2-.1 2.9-1.2 2-1 2-1.7 2-3.9 1.4-3.9 .2-5-2-7.9z" fill="#efac78"/>
<path d="M451.3 184.8l3-.3 1.9 .4 1.2 1.2 3.7 6.2 2.1 1.7 3.7 2 4.1 1.7 19.6 6.2 2.2 0 4.7-1.5 2-1.9 3.9-5.3 0 106.6-11.5 0-1.9-6.9-3.8-7.9-3.7-9.9-1.6-3-3.8-4.9-2.3-4-6.3-16.8-2-4-7.3-9-8.7-6.8-4.8-4.9-8.1-7-1-1.6-.2-11.2 4.1-9.8 6.9-5.4z" fill="#ee9868"/>
<path d="M447.4 196.8l6.9-.6 9.8 2.5 16.4 6.2 11.1 3.2 4.9-1 2-.9 4.9-5.9 0 101.5-9.6 0-1.8-6.9-4.1-8.9-3.3-9.9-1.7-3-4.6-5.9-1.4-3-2.9-7.9-2.3-8.9-1.4-3-9.8-11.8-6.2-5-5-6.1-5.6-5.8-.6-2.9 .2-9.9 1.7-4z" fill="#f0845e"/>
<path d="M459.2 202.8l4.9-.1 7.9 3.9 18.6 5.5 2-.2 5.9-2.1 2-1.4 2.9-3.3 0 96.7-7.9 0-1.5-6.9-4.1-8.9-3.3-10.9-5.8-7.9-1.4-3-2.5-8.4-2.6-11.4-1.3-1.9-5.2-5-5.7-7.8-4.9-4.8-3.6-7.2-1-3.9 1.1-7 1.5-2.6z" fill="#f07254"/>
<path d="M502.4 211.4l1-.6 0 91-6.2 0-1.2-6.9-4.1-8.9-3.2-11.9-5.1-6.9-1.5-3-4.1-20.8-1.3-1.9-5.5-5-1.3-2-4.7-8.9-2.6-10.8 .5-1.6 1-.7 6.9 0 9.8 2 8.8 3.2 3 .4 2-.8z" fill="#f0624c"/>
<path d="M503.4 217.7l0 84.1-4 0-2-8.9-3.6-7.9-2.6-11.9-1.6-3-3.5-3.9-.8-2-1.3-6.9-1.6-14.8-1.2-3-3.4-4-.6-2 .4-1.9 1.2-1.9 3.3-2.1 5.6-.9 5.9 .9 2.9-.9 2-1.7 3-5.3z" fill="#f53e3e"/>
<path d="M503.4 230.4l0 71.4-.6 0-2.9-8.9-3-6.9-1.9-15.9-1-2.9-3.9-6.9-.8-6 .6-3.9 1.3-3 9.3-12.2z" fill="#f6373a"/>
<mask id="mg" maskUnits="userSpaceOnUse" x="361.8" y="169.2" width="146.6" height="137.6"><rect x="361.8" y="169.2" width="146.6" height="137.6" fill="#fff"/><rect x="-3.8" y="-4" width="7.6" height="8" transform="translate(462.1,193.2) rotate(38)" fill="#000"/><rect x="-7.9" y="-4" width="15.8" height="8" transform="translate(454.0,205.9) rotate(-63)" fill="#000"/><rect x="-3.8" y="-4" width="7.6" height="8" transform="translate(452.3,230.1) rotate(39)" fill="#000"/><rect x="-7.9" y="-4" width="15.8" height="8" transform="translate(477.8,259.3) rotate(73)" fill="#000"/><rect x="-3.8" y="-4" width="7.6" height="8" transform="translate(488.8,239.2) rotate(-60)" fill="#000"/><rect x="-3.8" y="-4" width="7.6" height="8" transform="translate(488.2,290.9) rotate(63)" fill="#000"/><rect x="-3.8" y="-4" width="7.6" height="8" transform="translate(498.8,264.2) rotate(-90)" fill="#000"/></mask>
<path d="M491.9 301.8l-1.9-6.9-3.8-7.9-3.7-9.9-1.6-3-3.8-4.9-2.3-4-7.7-19.8-7.9-10-7.9-6.1-14.4-13.6-.6-2.9 .1-8.9 4.2-9.9 6.8-5.3 2.9-3.2 2-1 2.9 .1 1.2 .5 4.5 6.9 4 3 6.1 2.7 19.6 6.2 2.2 0 4.7-1.5 2-1.9 3.9-5.3M495.5 301.8l-1.5-6.9-4.1-8.9-3.3-10.9-5.8-7.9-1.4-3-2.5-8.4-2.6-11.4-1.3-1.9-5.2-5-5.7-7.8-5.1-5.1-3.9-7.9-.5-1.9 0-3 .8-4 1.2-2.9 1.6-1.3 4.9-1.1 3 .2 7.9 3.9 18.6 5.5 2-.2 5.9-2.1 2-1.4 2.9-3.3M499.4 301.8l-2-8.9-3.6-7.9-2.6-11.9-1.6-3-3.5-3.9-.8-2-1.3-6.9-1.6-14.8-1.2-3-3.4-4-.6-2 .4-1.9 1.2-1.9 3.3-2.1 5.6-.9 5.9 .9 2.9-.9 2-1.7 3-5.3 1.9-2" fill="none" stroke="#1a1a1a" stroke-width="0.6" mask="url(#mg)"/>
</g>
<clipPath id="ch"><rect x="520.0" y="174.2" width="136.6" height="127.6"/></clipPath>
<g clip-path="url(#ch)">
<rect x="520.0" y="174.2" width="136.6" height="127.6" fill="#68b2f6"/>
<path d="M521 174.2l135.6 0 0 127.6-136.6 0 0-127.6zM539.3 184.1l-.6 .5-.4 1.5-.2 3.9 .5 9.9 1 6.9 2.7 5 1.3 .5 2 0 1.1-.5 1.8-3 .8-2-.1-1.9-1.7-7-2.3-5.9-.7-4-.9-1.4-3-2.2-.9-.5z" fill="#70c0f7"/>
<path d="M521 174.2l135.6 0 0 127.6-136.6 0 0-127.6zM538.6 181.1l-.9 2.3-.4 5.6 .3 9.9 1.1 7.9 2.9 6.5 2 .7 2.9-.2 1.2-1 2.4-5 .3-1.9-.4-2-5.3-17.8-5-5.3z" fill="#78cef8"/>
<path d="M521 174.2l135.6 0 0 127.6-136.6 0 0-127.6zM538.1 179.1l-1 3-.4 6.9 .3 9.9 1 7.9 2.6 6.9 1 1 4.9 .3 1.7-1.2 2.4-5 .5-2-.2-2.9-5.3-18.2-3-3.1-2-3.4-.9-.6z" fill="#82dcf9"/>
<path d="M521 174.2l135.6 0 0 127.6-136.6 0 0-127.6zM538.2 177.2l-1.5 2.3-.6 6.6 .2 12.8 1 7.9 3.3 8.3 2 .9 3.9 .1 2.2-1.3 2.4-5 .9-3-.2-2.9-2.6-9.9-3.4-9.9-2.9-3-2.3-3.8-.9-.4z" fill="#8ee8fa"/>
<path d="M521 174.2l135.6 0 0 127.6-136.6 0 0-127.6zM537 176.2l-.7 1-.8 2.9-.3 7.9 .2 11.9 1.4 8.9 2.3 6 1.5 1.8 3 .8 3.9-.3 2.5-2.3 3-6 .3-2.9-.5-4-2.7-9.9-3.1-8.9-3.4-3.4-2.1-3.5-1.8-.8z" fill="#9cf0fa"/>
<path d="M521 174.2l14.3 0-4 4-.7 1.9 .1 31.7 1.1 2.2 4.2 2.7 1.9 2 1.6 3 1.9 5.9 1.2 .8 1.1-.8 4.5-5.9 4.7-4 4.8-2.9 .9-1 .8-2-.2-7.9-4.3-22.8-1.5-2.3-5.8-4.6 109 0 0 127.6-136.6 0 0-127.6z" fill="#acf5fb"/>
<path d="M521 174.2l5.2 0-1.5 4-.4 2.9 0 31.7 .6 6 4.2 11.8 5.3 4.9 4.4 5 .9 2.9 1.2 8.9 .7 2.1 1 .8 1.9-1.9 5-8.6 3.9-10 9.8-17.8 1-3.1 .5-15.9-.6-9.9-1.8-8.4-2.9-5.4 97.2 0 0 127.6-136.6 0 0-127.6z" fill="#c0f9fc"/>
<path d="M521 174.2l.4 0-.6 6.9 .1 36.6 .8 7.9 2.2 6.1 6.8 6.8 1.2 2 3.4 16.8 1.6 4.9 2.8 3.5 2.9 1.2 6.9-2.5 2.7-3.2 1.4-3.9 4-15.8 9.3-21.8 .7-6.9 .1-24.8-1-7.9-1.8-5.9 91.7 0 0 127.6-136.6 0 0-127.6z" fill="#d6fcfc"/>
<path d="M570.1 174.2l86.5 0 0 127.6-136.6 0 0-68.1 5.8 7.8 5.7 20.7 4.2 9.8 2 2.4 2.9 2.4 2 .4 7.9-5.1 4.9-5.2 2.6-3.7 1.9-3.9 10.4-36.6 .5-35.6-.5-7-1-5.9z" fill="#ecfefc"/>
<path d="M574.1 174.2l82.5 0 0 127.6-136.6 0 0-49.9 5.7 13.3 4.1 6.4 3.9 10.4 8.9 10.7 1.6 1.2 .4 .9 1 .1 11-11.9 3.7-7 5.6-12.8 1.9-5.9 5.6-25.7 .4-10.9 0-34.6-.7-11.9z" fill="#fcfcee"/>
<path d="M577 174.2l79.6 0 0 127.6-82.9 0-.8-4.9-.2-5 1.6-10.9-.1-30.6 2.6-19.8 0-49.5-.7-6.9zM520.2 276.1l2.6 6.9 3.1 4.6 .9 2.3 .2 11.9-7 0z" fill="#fafada"/>
<path d="M579.9 174.2l76.7 0 0 127.6-62.4 0-3.5-3-6.8-4.1-3-2.8-1.3-3-.8-3.9-2-24.7 .2-11.9 1.7-8.9 .9-7.9 .2-50.5-.5-6.9z" fill="#f8f4c6"/>
<path d="M582.9 174.2l73.7 0 0 127.6-31 0-2.7-3-8.2-5.9-21-4.2-5.9-2.7-2.2-2-1.4-2-1.5-3.9-1.8-7.2-1.2-6.7-.2-4.9 0-9.9 1.5-7.9 .9-9.9 .4-43.6z" fill="#f6ecb0"/>
<path d="M587.8 174.3l68.8-.1 0 127.6-23.1 0-2.1-4.9-2-3-6.4-4-7.7-3.1-11.8-2-7.8-1.9-4.9-2-2-2.2-2-4.9-3.2-10.6-1.1-11.8 1.5-19.8 0-12.9 .7-6.9 .2-24.7 1.3-8z" fill="#f5dea0"/>
<path d="M594.7 175.1l.9-.9 61 0 0 127.6-18.4 0-5.4-9.9-3.4-3.9-10.1-4.4-9.9-2.7-7.2-2.8-7.3-5-4.1-4.1-1.2-1.8-1.6-4-1.1-4.9-1.5-13.9 .6-13.8-.2-11.9 .6-5.9 .5-16.8 .8-8 1.3-4.9 2.6-4.9z" fill="#f3cf94"/>
<path d="M602.5 174.8l1.1-.6 53 0 0 127.6-15.4 0-1.3-3.7-3-5.8-4.9-6.4-1.9-1.6-10.8-6.1-7.3-3.1-5.5-3.2-11.1-10.7-2.8-3.9-4.3-10.9-.8-3.9 0-23.8 .4-13.8 .7-7.9 1.7-8 3.2-6.9 3.2-3.6z" fill="#f1be86"/>
<path d="M609.4 175.1l2.1-.9 45.1 0 0 127.6-13.3 0-4.1-10.9-2.3-3.9-1.9-2.5-13.6-11.4-7-3.9-3-2.4-5.9-6.7-5.9-5.3-8.8-10.4-.9-1.9-.8-22.8 .2-8.9 .6-8.9 1.5-7.9 2.9-6.9 3.4-5 4.8-3.7z" fill="#efac78"/>
<path d="M617.3 174.5l18.3-.3 6.3 4.2 4.1 3.7 2.7 1.3 2-.8 1.1-2.5-.3-2.9-1.7-3 6.8 0 0 127.6-11.2 0-4.5-12.6-2.3-4.2-2.6-3.7-10.2-10.2-10.5-7.4-19.9-19.3-2.6-3.9-1.9-17.8-.1-9.9 1.7-13.9 1.5-5.9 4.2-6.9 3.4-3.7 5.2-3.3 8.5-3.2z" fill="#ee9868"/>
<path d="M618.3 178l2.9-.4 11.8 3.1 9.8 5.7 5.9 2.3 2-.5 5.9-4.9 0 118.5-9.2 0-5.6-15.8-2.2-4-3.6-4.8-7-7.1-10.7-8.5-7.9-7.9-9.9-8.3-3.6-3.9-1.8-4-2.5-14.8-.3-8.9 1.9-14.9 1-3.9 5.4-7.8 2.9-2.9 7.9-4.3z" fill="#f0845e"/>
<path d="M612.4 183.1l5.9-.7 2.9 .3 18 7.3 8.6 2.5 2.9-.2 5.9-3.8 0 113.3-7.2 0-6.2-17.8-1.5-3-2.8-3.9-5.9-6.9-8.9-7-7.8-7.3-4.9-5.3-8.5-6.2-3.2-3.9-2.5-5-2.5-11.6-.5-5.2 0-6.9 2.1-13.9 1.5-2.9 4.7-6.1 6.9-4.5z" fill="#f07254"/>
<path d="M611.4 187.8l2.9-.5 5.9 .3 15.8 5.6 9.8 2.8 4.9-.2 5.9-3.8 0 109.8-5.2 0-7.1-20.8-2.4-4-4.8-5.9-3.1-3.1-7.7-5.8-13.8-13.8-7.3-5-2.4-2.9-3.3-6-1.4-4.9-1.3-10.9 .1-7.9 2-10.9 1-2.9 2.6-3.9z" fill="#f0624c"/>
<path d="M615.3 192.9l4-.2 5.9 .7 17.6 5.9 5 .7 3.9-.4 4.9-4.4 0 106.6-2.8 0-6.5-19.8-4.6-7.9-5.4-5.9-9.2-7.4-13.4-13.4-7.9-5.9-5.1-8.9-1.5-8.9-.2-8.9 .4-5 2.1-9.1 1-2.3 1.8-1.4 7.1-3.5z" fill="#f53e3e"/>
<path d="M622.2 197.8l3-.1 9.3 3.2 15.2 4 3-.5 3.9-1.8 0 92.6-2.9-3.6-5-13.2-4.9-6.9-5.3-5.3-9.4-7.9-8.6-8.9-9.2-7.9-3-4-2.4-4.9-1.6-7-.5-6.9 .4-3.9 1.5-5 2.8-4.9 2.9-3.1 3.9-2.1z" fill="#f6373a"/>
<path d="M620.2 204.7l5-.7 16.7 2.6 4.9 2.8 4.9 5.2 4.9 2.4 0 28.3-1.6 14-.5 11.8-.7 3-1.1 1.1-21.9-18.9-6.2-6.9-9.7-8.9-3.6-6-1.5-3.9-1.5-6.9-.4-5 .5-3 2-4.6 2-2.4 1.9-1.4z" fill="#f53037"/>
<path d="M621.2 208.8l9.8-.6 7.9 1.6 8.9 4.9 2.4 2 1.5 2 .9 4 1.2 12.8 .2 7-1.3 8.9-1.3 5.9-1.7 4.6-1.4 1.3-2.5 .5-2-.5-5.9-5.1-4.9-3.5-5-6.2-7.8-7.9-4-6-1.4-3.9-1.4-6-.6-4.9 .2-3 1.6-3.9 1.6-2z" fill="#ee2a36"/>
<path d="M625.2 211.6l5.8-.4 2.9 .6 6 2.3 5.1 2.6 1.8 1.4 .9 1.6 2.9 17.8 .2 5-2.1 9-1.9 2.8-2 1.9-1 .3-1-.4-3.9-3.1-4.9-2.9-3.9-5.7-4.9-5-4.4-6.8-2.2-8.9-.4-6 .8-2 1.7-1.9z" fill="#de2232"/>
<path d="M630.1 216.5l2.1 .2 6.3 2 1.4 1.3 2 4 1.1 5.6 0 8.9-1 3-2.1 1.5-2 .2-1-.7-2.5-4-3.6-3-1.9-2.9-.7-3-.4-9.9 .4-2z" fill="#cd1c2e"/>
<mask id="mh" maskUnits="userSpaceOnUse" x="515.0" y="169.2" width="146.6" height="137.6"><rect x="515.0" y="169.2" width="146.6" height="137.6" fill="#fff"/><rect x="-3.8" y="-4" width="7.6" height="8" transform="translate(637.1,175.2) rotate(33)" fill="#000"/><rect x="-3.8" y="-4" width="7.6" height="8" transform="translate(650.1,183.1) rotate(-28)" fill="#000"/><rect x="-7.9" y="-4" width="15.8" height="8" transform="translate(605.0,187.1) rotate(-32)" fill="#000"/><rect x="-3.8" y="-4" width="7.6" height="8" transform="translate(600.6,208.8) rotate(-79)" fill="#000"/><rect x="-7.9" y="-4" width="15.8" height="8" transform="translate(646.0,208.8) rotate(38)" fill="#000"/><rect x="-3.8" y="-4" width="7.6" height="8" transform="translate(633.0,234.2) rotate(-30)" fill="#000"/><rect x="-3.8" y="-4" width="7.6" height="8" transform="translate(596.4,245.4) rotate(45)" fill="#000"/><rect x="-7.9" y="-4" width="15.8" height="8" transform="translate(613.4,252.6) rotate(49)" fill="#000"/><rect x="-7.9" y="-4" width="15.8" height="8" transform="translate(623.2,248.0) rotate(43)" fill="#000"/><rect x="-3.8" y="-4" width="7.6" height="8" transform="translate(634.0,265.3) rotate(39)" fill="#000"/><rect x="-3.8" y="-4" width="7.6" height="8" transform="translate(650.0,247.4) rotate(-78)" fill="#000"/><rect x="-3.8" y="-4" width="7.6" height="8" transform="translate(641.6,290.9) rotate(68)" fill="#000"/><rect x="-3.8" y="-4" width="7.6" height="8" transform="translate(654.0,274.2) rotate(-90)" fill="#000"/></mask>
<path d="M635.6 174.2l6.3 4.2 4.1 3.7 2.7 1.3 2-.8 1.1-2.5-.3-2.9-1.7-3M645.4 301.8l-4.5-12.6-2.3-4.2-2.6-3.7-9.9-9.9-9.8-6.9-13.8-13.1-8-8-1.9-3.9-1.7-16.8-.1-9.9 1.7-13.9 1.5-5.9 4.2-6.9 3.4-3.7 5.2-3.3 8.5-3.2 2.2-1.7M649.4 301.8l-6.6-18.7-1.9-3.4-4-5.1-4-4.5-7.6-5.9-8-7.3-5.9-6.3-7.9-5.6-4.4-5.5-2.4-5.5-2-10.1-.5-5.2 0-6.9 1.9-12.9 1.5-3.7 5.9-7.2 7.9-4.6 6.9-1 2.9 .3 18 7.3 8.6 2.5 2.9-.2 5.9-3.8M653.8 301.8l-6.5-19.8-4.6-7.9-5.8-6.3-8.8-7-12.8-12.8-7.4-5.5-2.4-2.8-3.4-6.2-1-2.9-1.1-8.9 0-6.9 .6-6 1.9-8.1 1-2.3 1.8-1.4 7.1-3.5 5.9-.8 5.9 .5 18.6 6.1 5.9 .7 3-.4 4.9-4.4M656.6 245.3l-1.6 14-.6 12.8-.7 2.3-1 .8-1-.4-2.4-2.7-17.4-14.8-7.3-7.9-10.3-9.6-2.5-4.3-1.7-3.9-1.7-7.2-.5-5.7 .5-3 1.2-2.9 2.8-4.1 6.9-3.6 4.9-1.1 8.8 .9 9.5 1.9 4.3 2.6 4.9 5.2 4.9 2.4M625.2 211.6l5.8-.4 2.9 .6 6 2.3 5.1 2.6 1.8 1.4 .9 1.6 2.9 17.8 .2 5-2.1 9-1.9 2.8-2 1.9-1 .3-1-.4-3.9-3.1-4.9-2.9-3.9-5.7-4.9-5-4.4-6.8-2.2-8.9-.4-6 .8-2 1.7-1.9z" fill="none" stroke="#1a1a1a" stroke-width="0.6" mask="url(#mh)"/>
</g>
<line x1="120.9" y1="16.7" x2="120.9" y2="144.3" stroke="#5a5a5a" stroke-width="1.4" stroke-dasharray="4.1 3.5" stroke-dashoffset="5.4"/>
<line x1="163.7" y1="16.7" x2="163.7" y2="144.3" stroke="#5a5a5a" stroke-width="1.4" stroke-dasharray="4.1 3.5" stroke-dashoffset="5.4"/>
<rect x="60.5" y="16.7" width="136.6" height="127.6" fill="none" stroke="#bcbcbc" stroke-width="1.0"/>
<line x1="78.4" y1="144.3" x2="78.4" y2="142.8" stroke="#777" stroke-width="0.7"/>
<line x1="78.4" y1="16.7" x2="78.4" y2="18.2" stroke="#777" stroke-width="0.7"/>
<line x1="112.5" y1="144.3" x2="112.5" y2="142.8" stroke="#777" stroke-width="0.7"/>
<line x1="112.5" y1="16.7" x2="112.5" y2="18.2" stroke="#777" stroke-width="0.7"/>
<line x1="146.8" y1="144.3" x2="146.8" y2="142.8" stroke="#777" stroke-width="0.7"/>
<line x1="146.8" y1="16.7" x2="146.8" y2="18.2" stroke="#777" stroke-width="0.7"/>
<line x1="181.2" y1="144.3" x2="181.2" y2="142.8" stroke="#777" stroke-width="0.7"/>
<line x1="181.2" y1="16.7" x2="181.2" y2="18.2" stroke="#777" stroke-width="0.7"/>
<line x1="60.5" y1="144.3" x2="62.0" y2="144.3" stroke="#777" stroke-width="0.7"/>
<line x1="197.1" y1="144.3" x2="195.6" y2="144.3" stroke="#777" stroke-width="0.7"/>
<line x1="60.5" y1="121.1" x2="62.0" y2="121.1" stroke="#777" stroke-width="0.7"/>
<line x1="197.1" y1="121.1" x2="195.6" y2="121.1" stroke="#777" stroke-width="0.7"/>
<line x1="60.5" y1="97.9" x2="62.0" y2="97.9" stroke="#777" stroke-width="0.7"/>
<line x1="197.1" y1="97.9" x2="195.6" y2="97.9" stroke="#777" stroke-width="0.7"/>
<line x1="60.5" y1="74.7" x2="62.0" y2="74.7" stroke="#777" stroke-width="0.7"/>
<line x1="197.1" y1="74.7" x2="195.6" y2="74.7" stroke="#777" stroke-width="0.7"/>
<line x1="60.5" y1="51.5" x2="62.0" y2="51.5" stroke="#777" stroke-width="0.7"/>
<line x1="197.1" y1="51.5" x2="195.6" y2="51.5" stroke="#777" stroke-width="0.7"/>
<line x1="60.5" y1="28.3" x2="62.0" y2="28.3" stroke="#777" stroke-width="0.7"/>
<line x1="197.1" y1="28.3" x2="195.6" y2="28.3" stroke="#777" stroke-width="0.7"/>
<line x1="274.0" y1="16.7" x2="274.0" y2="144.3" stroke="#5a5a5a" stroke-width="1.4" stroke-dasharray="4.1 3.5" stroke-dashoffset="5.4"/>
<line x1="316.8" y1="16.7" x2="316.8" y2="144.3" stroke="#5a5a5a" stroke-width="1.4" stroke-dasharray="4.1 3.5" stroke-dashoffset="5.4"/>
<rect x="213.6" y="16.7" width="136.6" height="127.6" fill="none" stroke="#bcbcbc" stroke-width="1.0"/>
<line x1="231.5" y1="144.3" x2="231.5" y2="142.8" stroke="#777" stroke-width="0.7"/>
<line x1="231.5" y1="16.7" x2="231.5" y2="18.2" stroke="#777" stroke-width="0.7"/>
<line x1="265.6" y1="144.3" x2="265.6" y2="142.8" stroke="#777" stroke-width="0.7"/>
<line x1="265.6" y1="16.7" x2="265.6" y2="18.2" stroke="#777" stroke-width="0.7"/>
<line x1="299.9" y1="144.3" x2="299.9" y2="142.8" stroke="#777" stroke-width="0.7"/>
<line x1="299.9" y1="16.7" x2="299.9" y2="18.2" stroke="#777" stroke-width="0.7"/>
<line x1="334.3" y1="144.3" x2="334.3" y2="142.8" stroke="#777" stroke-width="0.7"/>
<line x1="334.3" y1="16.7" x2="334.3" y2="18.2" stroke="#777" stroke-width="0.7"/>
<line x1="213.6" y1="144.3" x2="215.1" y2="144.3" stroke="#777" stroke-width="0.7"/>
<line x1="350.2" y1="144.3" x2="348.7" y2="144.3" stroke="#777" stroke-width="0.7"/>
<line x1="213.6" y1="121.1" x2="215.1" y2="121.1" stroke="#777" stroke-width="0.7"/>
<line x1="350.2" y1="121.1" x2="348.7" y2="121.1" stroke="#777" stroke-width="0.7"/>
<line x1="213.6" y1="97.9" x2="215.1" y2="97.9" stroke="#777" stroke-width="0.7"/>
<line x1="350.2" y1="97.9" x2="348.7" y2="97.9" stroke="#777" stroke-width="0.7"/>
<line x1="213.6" y1="74.7" x2="215.1" y2="74.7" stroke="#777" stroke-width="0.7"/>
<line x1="350.2" y1="74.7" x2="348.7" y2="74.7" stroke="#777" stroke-width="0.7"/>
<line x1="213.6" y1="51.5" x2="215.1" y2="51.5" stroke="#777" stroke-width="0.7"/>
<line x1="350.2" y1="51.5" x2="348.7" y2="51.5" stroke="#777" stroke-width="0.7"/>
<line x1="213.6" y1="28.3" x2="215.1" y2="28.3" stroke="#777" stroke-width="0.7"/>
<line x1="350.2" y1="28.3" x2="348.7" y2="28.3" stroke="#777" stroke-width="0.7"/>
<line x1="427.2" y1="16.7" x2="427.2" y2="144.3" stroke="#5a5a5a" stroke-width="1.4" stroke-dasharray="4.1 3.5" stroke-dashoffset="5.4"/>
<line x1="470.0" y1="16.7" x2="470.0" y2="144.3" stroke="#5a5a5a" stroke-width="1.4" stroke-dasharray="4.1 3.5" stroke-dashoffset="5.4"/>
<rect x="366.8" y="16.7" width="136.6" height="127.6" fill="none" stroke="#bcbcbc" stroke-width="1.0"/>
<line x1="384.7" y1="144.3" x2="384.7" y2="142.8" stroke="#777" stroke-width="0.7"/>
<line x1="384.7" y1="16.7" x2="384.7" y2="18.2" stroke="#777" stroke-width="0.7"/>
<line x1="418.8" y1="144.3" x2="418.8" y2="142.8" stroke="#777" stroke-width="0.7"/>
<line x1="418.8" y1="16.7" x2="418.8" y2="18.2" stroke="#777" stroke-width="0.7"/>
<line x1="453.1" y1="144.3" x2="453.1" y2="142.8" stroke="#777" stroke-width="0.7"/>
<line x1="453.1" y1="16.7" x2="453.1" y2="18.2" stroke="#777" stroke-width="0.7"/>
<line x1="487.5" y1="144.3" x2="487.5" y2="142.8" stroke="#777" stroke-width="0.7"/>
<line x1="487.5" y1="16.7" x2="487.5" y2="18.2" stroke="#777" stroke-width="0.7"/>
<line x1="366.8" y1="144.3" x2="368.3" y2="144.3" stroke="#777" stroke-width="0.7"/>
<line x1="503.4" y1="144.3" x2="501.9" y2="144.3" stroke="#777" stroke-width="0.7"/>
<line x1="366.8" y1="121.1" x2="368.3" y2="121.1" stroke="#777" stroke-width="0.7"/>
<line x1="503.4" y1="121.1" x2="501.9" y2="121.1" stroke="#777" stroke-width="0.7"/>
<line x1="366.8" y1="97.9" x2="368.3" y2="97.9" stroke="#777" stroke-width="0.7"/>
<line x1="503.4" y1="97.9" x2="501.9" y2="97.9" stroke="#777" stroke-width="0.7"/>
<line x1="366.8" y1="74.7" x2="368.3" y2="74.7" stroke="#777" stroke-width="0.7"/>
<line x1="503.4" y1="74.7" x2="501.9" y2="74.7" stroke="#777" stroke-width="0.7"/>
<line x1="366.8" y1="51.5" x2="368.3" y2="51.5" stroke="#777" stroke-width="0.7"/>
<line x1="503.4" y1="51.5" x2="501.9" y2="51.5" stroke="#777" stroke-width="0.7"/>
<line x1="366.8" y1="28.3" x2="368.3" y2="28.3" stroke="#777" stroke-width="0.7"/>
<line x1="503.4" y1="28.3" x2="501.9" y2="28.3" stroke="#777" stroke-width="0.7"/>
<line x1="580.4" y1="16.7" x2="580.4" y2="144.3" stroke="#5a5a5a" stroke-width="1.4" stroke-dasharray="4.1 3.5" stroke-dashoffset="5.4"/>
<line x1="623.2" y1="16.7" x2="623.2" y2="144.3" stroke="#5a5a5a" stroke-width="1.4" stroke-dasharray="4.1 3.5" stroke-dashoffset="5.4"/>
<rect x="520.0" y="16.7" width="136.6" height="127.6" fill="none" stroke="#bcbcbc" stroke-width="1.0"/>
<line x1="537.9" y1="144.3" x2="537.9" y2="142.8" stroke="#777" stroke-width="0.7"/>
<line x1="537.9" y1="16.7" x2="537.9" y2="18.2" stroke="#777" stroke-width="0.7"/>
<line x1="572.0" y1="144.3" x2="572.0" y2="142.8" stroke="#777" stroke-width="0.7"/>
<line x1="572.0" y1="16.7" x2="572.0" y2="18.2" stroke="#777" stroke-width="0.7"/>
<line x1="606.3" y1="144.3" x2="606.3" y2="142.8" stroke="#777" stroke-width="0.7"/>
<line x1="606.3" y1="16.7" x2="606.3" y2="18.2" stroke="#777" stroke-width="0.7"/>
<line x1="640.7" y1="144.3" x2="640.7" y2="142.8" stroke="#777" stroke-width="0.7"/>
<line x1="640.7" y1="16.7" x2="640.7" y2="18.2" stroke="#777" stroke-width="0.7"/>
<line x1="520.0" y1="144.3" x2="521.5" y2="144.3" stroke="#777" stroke-width="0.7"/>
<line x1="656.6" y1="144.3" x2="655.1" y2="144.3" stroke="#777" stroke-width="0.7"/>
<line x1="520.0" y1="121.1" x2="521.5" y2="121.1" stroke="#777" stroke-width="0.7"/>
<line x1="656.6" y1="121.1" x2="655.1" y2="121.1" stroke="#777" stroke-width="0.7"/>
<line x1="520.0" y1="97.9" x2="521.5" y2="97.9" stroke="#777" stroke-width="0.7"/>
<line x1="656.6" y1="97.9" x2="655.1" y2="97.9" stroke="#777" stroke-width="0.7"/>
<line x1="520.0" y1="74.7" x2="521.5" y2="74.7" stroke="#777" stroke-width="0.7"/>
<line x1="656.6" y1="74.7" x2="655.1" y2="74.7" stroke="#777" stroke-width="0.7"/>
<line x1="520.0" y1="51.5" x2="521.5" y2="51.5" stroke="#777" stroke-width="0.7"/>
<line x1="656.6" y1="51.5" x2="655.1" y2="51.5" stroke="#777" stroke-width="0.7"/>
<line x1="520.0" y1="28.3" x2="521.5" y2="28.3" stroke="#777" stroke-width="0.7"/>
<line x1="656.6" y1="28.3" x2="655.1" y2="28.3" stroke="#777" stroke-width="0.7"/>
<line x1="120.9" y1="174.2" x2="120.9" y2="301.8" stroke="#5a5a5a" stroke-width="1.4" stroke-dasharray="4.1 3.5" stroke-dashoffset="5.4"/>
<line x1="163.7" y1="174.2" x2="163.7" y2="301.8" stroke="#5a5a5a" stroke-width="1.4" stroke-dasharray="4.1 3.5" stroke-dashoffset="5.4"/>
<rect x="60.5" y="174.2" width="136.6" height="127.6" fill="none" stroke="#bcbcbc" stroke-width="1.0"/>
<line x1="78.4" y1="301.8" x2="78.4" y2="300.3" stroke="#777" stroke-width="0.7"/>
<line x1="78.4" y1="174.2" x2="78.4" y2="175.7" stroke="#777" stroke-width="0.7"/>
<line x1="112.5" y1="301.8" x2="112.5" y2="300.3" stroke="#777" stroke-width="0.7"/>
<line x1="112.5" y1="174.2" x2="112.5" y2="175.7" stroke="#777" stroke-width="0.7"/>
<line x1="146.8" y1="301.8" x2="146.8" y2="300.3" stroke="#777" stroke-width="0.7"/>
<line x1="146.8" y1="174.2" x2="146.8" y2="175.7" stroke="#777" stroke-width="0.7"/>
<line x1="181.2" y1="301.8" x2="181.2" y2="300.3" stroke="#777" stroke-width="0.7"/>
<line x1="181.2" y1="174.2" x2="181.2" y2="175.7" stroke="#777" stroke-width="0.7"/>
<line x1="60.5" y1="301.8" x2="62.0" y2="301.8" stroke="#777" stroke-width="0.7"/>
<line x1="197.1" y1="301.8" x2="195.6" y2="301.8" stroke="#777" stroke-width="0.7"/>
<line x1="60.5" y1="278.6" x2="62.0" y2="278.6" stroke="#777" stroke-width="0.7"/>
<line x1="197.1" y1="278.6" x2="195.6" y2="278.6" stroke="#777" stroke-width="0.7"/>
<line x1="60.5" y1="255.4" x2="62.0" y2="255.4" stroke="#777" stroke-width="0.7"/>
<line x1="197.1" y1="255.4" x2="195.6" y2="255.4" stroke="#777" stroke-width="0.7"/>
<line x1="60.5" y1="232.2" x2="62.0" y2="232.2" stroke="#777" stroke-width="0.7"/>
<line x1="197.1" y1="232.2" x2="195.6" y2="232.2" stroke="#777" stroke-width="0.7"/>
<line x1="60.5" y1="209.0" x2="62.0" y2="209.0" stroke="#777" stroke-width="0.7"/>
<line x1="197.1" y1="209.0" x2="195.6" y2="209.0" stroke="#777" stroke-width="0.7"/>
<line x1="60.5" y1="185.8" x2="62.0" y2="185.8" stroke="#777" stroke-width="0.7"/>
<line x1="197.1" y1="185.8" x2="195.6" y2="185.8" stroke="#777" stroke-width="0.7"/>
<line x1="274.0" y1="174.2" x2="274.0" y2="301.8" stroke="#5a5a5a" stroke-width="1.4" stroke-dasharray="4.1 3.5" stroke-dashoffset="5.4"/>
<line x1="316.8" y1="174.2" x2="316.8" y2="301.8" stroke="#5a5a5a" stroke-width="1.4" stroke-dasharray="4.1 3.5" stroke-dashoffset="5.4"/>
<rect x="213.6" y="174.2" width="136.6" height="127.6" fill="none" stroke="#bcbcbc" stroke-width="1.0"/>
<line x1="231.5" y1="301.8" x2="231.5" y2="300.3" stroke="#777" stroke-width="0.7"/>
<line x1="231.5" y1="174.2" x2="231.5" y2="175.7" stroke="#777" stroke-width="0.7"/>
<line x1="265.6" y1="301.8" x2="265.6" y2="300.3" stroke="#777" stroke-width="0.7"/>
<line x1="265.6" y1="174.2" x2="265.6" y2="175.7" stroke="#777" stroke-width="0.7"/>
<line x1="299.9" y1="301.8" x2="299.9" y2="300.3" stroke="#777" stroke-width="0.7"/>
<line x1="299.9" y1="174.2" x2="299.9" y2="175.7" stroke="#777" stroke-width="0.7"/>
<line x1="334.3" y1="301.8" x2="334.3" y2="300.3" stroke="#777" stroke-width="0.7"/>
<line x1="334.3" y1="174.2" x2="334.3" y2="175.7" stroke="#777" stroke-width="0.7"/>
<line x1="213.6" y1="301.8" x2="215.1" y2="301.8" stroke="#777" stroke-width="0.7"/>
<line x1="350.2" y1="301.8" x2="348.7" y2="301.8" stroke="#777" stroke-width="0.7"/>
<line x1="213.6" y1="278.6" x2="215.1" y2="278.6" stroke="#777" stroke-width="0.7"/>
<line x1="350.2" y1="278.6" x2="348.7" y2="278.6" stroke="#777" stroke-width="0.7"/>
<line x1="213.6" y1="255.4" x2="215.1" y2="255.4" stroke="#777" stroke-width="0.7"/>
<line x1="350.2" y1="255.4" x2="348.7" y2="255.4" stroke="#777" stroke-width="0.7"/>
<line x1="213.6" y1="232.2" x2="215.1" y2="232.2" stroke="#777" stroke-width="0.7"/>
<line x1="350.2" y1="232.2" x2="348.7" y2="232.2" stroke="#777" stroke-width="0.7"/>
<line x1="213.6" y1="209.0" x2="215.1" y2="209.0" stroke="#777" stroke-width="0.7"/>
<line x1="350.2" y1="209.0" x2="348.7" y2="209.0" stroke="#777" stroke-width="0.7"/>
<line x1="213.6" y1="185.8" x2="215.1" y2="185.8" stroke="#777" stroke-width="0.7"/>
<line x1="350.2" y1="185.8" x2="348.7" y2="185.8" stroke="#777" stroke-width="0.7"/>
<line x1="427.2" y1="174.2" x2="427.2" y2="301.8" stroke="#5a5a5a" stroke-width="1.4" stroke-dasharray="4.1 3.5" stroke-dashoffset="5.4"/>
<line x1="470.0" y1="174.2" x2="470.0" y2="301.8" stroke="#5a5a5a" stroke-width="1.4" stroke-dasharray="4.1 3.5" stroke-dashoffset="5.4"/>
<rect x="366.8" y="174.2" width="136.6" height="127.6" fill="none" stroke="#bcbcbc" stroke-width="1.0"/>
<line x1="384.7" y1="301.8" x2="384.7" y2="300.3" stroke="#777" stroke-width="0.7"/>
<line x1="384.7" y1="174.2" x2="384.7" y2="175.7" stroke="#777" stroke-width="0.7"/>
<line x1="418.8" y1="301.8" x2="418.8" y2="300.3" stroke="#777" stroke-width="0.7"/>
<line x1="418.8" y1="174.2" x2="418.8" y2="175.7" stroke="#777" stroke-width="0.7"/>
<line x1="453.1" y1="301.8" x2="453.1" y2="300.3" stroke="#777" stroke-width="0.7"/>
<line x1="453.1" y1="174.2" x2="453.1" y2="175.7" stroke="#777" stroke-width="0.7"/>
<line x1="487.5" y1="301.8" x2="487.5" y2="300.3" stroke="#777" stroke-width="0.7"/>
<line x1="487.5" y1="174.2" x2="487.5" y2="175.7" stroke="#777" stroke-width="0.7"/>
<line x1="366.8" y1="301.8" x2="368.3" y2="301.8" stroke="#777" stroke-width="0.7"/>
<line x1="503.4" y1="301.8" x2="501.9" y2="301.8" stroke="#777" stroke-width="0.7"/>
<line x1="366.8" y1="278.6" x2="368.3" y2="278.6" stroke="#777" stroke-width="0.7"/>
<line x1="503.4" y1="278.6" x2="501.9" y2="278.6" stroke="#777" stroke-width="0.7"/>
<line x1="366.8" y1="255.4" x2="368.3" y2="255.4" stroke="#777" stroke-width="0.7"/>
<line x1="503.4" y1="255.4" x2="501.9" y2="255.4" stroke="#777" stroke-width="0.7"/>
<line x1="366.8" y1="232.2" x2="368.3" y2="232.2" stroke="#777" stroke-width="0.7"/>
<line x1="503.4" y1="232.2" x2="501.9" y2="232.2" stroke="#777" stroke-width="0.7"/>
<line x1="366.8" y1="209.0" x2="368.3" y2="209.0" stroke="#777" stroke-width="0.7"/>
<line x1="503.4" y1="209.0" x2="501.9" y2="209.0" stroke="#777" stroke-width="0.7"/>
<line x1="366.8" y1="185.8" x2="368.3" y2="185.8" stroke="#777" stroke-width="0.7"/>
<line x1="503.4" y1="185.8" x2="501.9" y2="185.8" stroke="#777" stroke-width="0.7"/>
<line x1="580.4" y1="174.2" x2="580.4" y2="301.8" stroke="#5a5a5a" stroke-width="1.4" stroke-dasharray="4.1 3.5" stroke-dashoffset="5.4"/>
<line x1="623.2" y1="174.2" x2="623.2" y2="301.8" stroke="#5a5a5a" stroke-width="1.4" stroke-dasharray="4.1 3.5" stroke-dashoffset="5.4"/>
<rect x="520.0" y="174.2" width="136.6" height="127.6" fill="none" stroke="#bcbcbc" stroke-width="1.0"/>
<line x1="537.9" y1="301.8" x2="537.9" y2="300.3" stroke="#777" stroke-width="0.7"/>
<line x1="537.9" y1="174.2" x2="537.9" y2="175.7" stroke="#777" stroke-width="0.7"/>
<line x1="572.0" y1="301.8" x2="572.0" y2="300.3" stroke="#777" stroke-width="0.7"/>
<line x1="572.0" y1="174.2" x2="572.0" y2="175.7" stroke="#777" stroke-width="0.7"/>
<line x1="606.3" y1="301.8" x2="606.3" y2="300.3" stroke="#777" stroke-width="0.7"/>
<line x1="606.3" y1="174.2" x2="606.3" y2="175.7" stroke="#777" stroke-width="0.7"/>
<line x1="640.7" y1="301.8" x2="640.7" y2="300.3" stroke="#777" stroke-width="0.7"/>
<line x1="640.7" y1="174.2" x2="640.7" y2="175.7" stroke="#777" stroke-width="0.7"/>
<line x1="520.0" y1="301.8" x2="521.5" y2="301.8" stroke="#777" stroke-width="0.7"/>
<line x1="656.6" y1="301.8" x2="655.1" y2="301.8" stroke="#777" stroke-width="0.7"/>
<line x1="520.0" y1="278.6" x2="521.5" y2="278.6" stroke="#777" stroke-width="0.7"/>
<line x1="656.6" y1="278.6" x2="655.1" y2="278.6" stroke="#777" stroke-width="0.7"/>
<line x1="520.0" y1="255.4" x2="521.5" y2="255.4" stroke="#777" stroke-width="0.7"/>
<line x1="656.6" y1="255.4" x2="655.1" y2="255.4" stroke="#777" stroke-width="0.7"/>
<line x1="520.0" y1="232.2" x2="521.5" y2="232.2" stroke="#777" stroke-width="0.7"/>
<line x1="656.6" y1="232.2" x2="655.1" y2="232.2" stroke="#777" stroke-width="0.7"/>
<line x1="520.0" y1="209.0" x2="521.5" y2="209.0" stroke="#777" stroke-width="0.7"/>
<line x1="656.6" y1="209.0" x2="655.1" y2="209.0" stroke="#777" stroke-width="0.7"/>
<line x1="520.0" y1="185.8" x2="521.5" y2="185.8" stroke="#777" stroke-width="0.7"/>
<line x1="656.6" y1="185.8" x2="655.1" y2="185.8" stroke="#777" stroke-width="0.7"/>
<line x1="196.2" y1="16.7" x2="196.2" y2="78.7" stroke="#222" stroke-width="1.3"/>
<text transform="translate(129.0,27.6) rotate(80)" class="cl" text-anchor="middle" dy="3.9">2</text>
<text transform="translate(144.0,33.5) rotate(78)" class="cl" text-anchor="middle" dy="3.9">3</text>
<text transform="translate(139.5,42.4) rotate(84)" class="cl" text-anchor="middle" dy="3.9">2.5</text>
<text transform="translate(157.6,40.4) rotate(81)" class="cl" text-anchor="middle" dy="3.9">3.5</text>
<text transform="translate(182.5,41.4) rotate(-74)" class="cl" text-anchor="middle" dy="3.9">4</text>
<text transform="translate(185.6,67.1) rotate(89)" class="cl" text-anchor="middle" dy="3.9">3.5</text>
<text transform="translate(192.2,46.4) rotate(-87)" class="cl" text-anchor="middle" dy="3.9">3</text>
<text transform="translate(196.5,57.3) rotate(90)" class="cl" text-anchor="middle" dy="3.9">2.5</text>
<text transform="translate(148.9,88.0) rotate(38)" class="cl" text-anchor="middle" dy="3.9">2</text>
<text transform="translate(180.4,85.9) rotate(39)" class="cl" text-anchor="middle" dy="3.9">3</text>
<text transform="translate(180.2,95.8) rotate(45)" class="cl" text-anchor="middle" dy="3.9">2.5</text>
<text transform="translate(196.2,100.7) rotate(-80)" class="cl" text-anchor="middle" dy="3.9">2</text>
<text transform="translate(198.5,29.7) rotate(-80)" class="cl" text-anchor="middle" dy="3.9">2</text>
<line x1="349.3" y1="26.7" x2="349.3" y2="99.7" stroke="#222" stroke-width="1.3"/>
<text transform="translate(308.8,32.5) rotate(39)" class="cl" text-anchor="middle" dy="3.9">2</text>
<text transform="translate(347.4,19.7) rotate(29)" class="cl" text-anchor="middle" dy="3.9">2</text>
<text transform="translate(330.3,71.1) rotate(90)" class="cl" text-anchor="middle" dy="3.9">2.5</text>
<text transform="translate(337.2,93.9) rotate(65)" class="cl" text-anchor="middle" dy="3.9">2</text>
<line x1="502.5" y1="16.7" x2="502.5" y2="91.7" stroke="#222" stroke-width="1.3"/>
<text transform="translate(438.5,39.3) rotate(49)" class="cl" text-anchor="middle" dy="3.9">2</text>
<text transform="translate(444.4,35.0) rotate(55)" class="cl" text-anchor="middle" dy="3.9">2.5</text>
<text transform="translate(453.3,31.5) rotate(56)" class="cl" text-anchor="middle" dy="3.9">3</text>
<text transform="translate(473.9,40.8) rotate(61)" class="cl" text-anchor="middle" dy="3.9">3.5</text>
<text transform="translate(497.0,63.2) rotate(85)" class="cl" text-anchor="middle" dy="3.9">4</text>
<text transform="translate(495.8,21.7) rotate(-40)" class="cl" text-anchor="middle" dy="3.9">3</text>
<text transform="translate(466.1,86.9) rotate(47)" class="cl" text-anchor="middle" dy="3.9">2</text>
<text transform="translate(486.7,95.8) rotate(33)" class="cl" text-anchor="middle" dy="3.9">2.5</text>
<text transform="translate(497.1,36.5) rotate(87)" class="cl" text-anchor="middle" dy="3.9">3.5</text>
<line x1="655.7" y1="16.7" x2="655.7" y2="101.7" stroke="#222" stroke-width="1.3"/>
<text transform="translate(588.7,43.4) rotate(83)" class="cl" text-anchor="middle" dy="3.9">2</text>
<text transform="translate(594.9,43.4) rotate(77)" class="cl" text-anchor="middle" dy="3.9">2.5</text>
<text transform="translate(598.6,35.4) rotate(78)" class="cl" text-anchor="middle" dy="3.9">3</text>
<text transform="translate(604.5,32.6) rotate(74)" class="cl" text-anchor="middle" dy="3.9">3.5</text>
<text transform="translate(610.4,29.6) rotate(70)" class="cl" text-anchor="middle" dy="3.9">4</text>
<text transform="translate(647.9,35.5) rotate(89)" class="cl" text-anchor="middle" dy="3.9">4.5</text>
<text transform="translate(635.9,60.2) rotate(65)" class="cl" text-anchor="middle" dy="3.9">4.5</text>
<text transform="translate(627.1,93.7) rotate(28)" class="cl" text-anchor="middle" dy="3.9">2</text>
<text transform="translate(635.6,93.9) rotate(35)" class="cl" text-anchor="middle" dy="3.9">2.5</text>
<text transform="translate(655.5,41.4) rotate(90)" class="cl" text-anchor="middle" dy="3.9">3.5</text>
<text transform="translate(653.0,67.1) rotate(-90)" class="cl" text-anchor="middle" dy="3.9">4</text>
<line x1="196.2" y1="174.2" x2="196.2" y2="301.2" stroke="#222" stroke-width="1.3"/>
<text transform="translate(155.5,181.1) rotate(-38)" class="cl" text-anchor="middle" dy="3.9">2</text>
<text transform="translate(168.6,183.4) rotate(4)" class="cl" text-anchor="middle" dy="3.9">2.5</text>
<text transform="translate(189.2,193.3) rotate(-9)" class="cl" text-anchor="middle" dy="3.9">3</text>
<text transform="translate(189.8,204.9) rotate(11)" class="cl" text-anchor="middle" dy="3.9">3.5</text>
<text transform="translate(141.7,222.7) rotate(88)" class="cl" text-anchor="middle" dy="3.9">3</text>
<text transform="translate(132.5,233.5) rotate(79)" class="cl" text-anchor="middle" dy="3.9">2</text>
<text transform="translate(184.0,234.5) rotate(-59)" class="cl" text-anchor="middle" dy="3.9">4</text>
<text transform="translate(160.9,241.5) rotate(49)" class="cl" text-anchor="middle" dy="3.9">3.5</text>
<text transform="translate(165.5,289.9) rotate(35)" class="cl" text-anchor="middle" dy="3.9">2</text>
<text transform="translate(177.4,289.9) rotate(42)" class="cl" text-anchor="middle" dy="3.9">2.5</text>
<text transform="translate(174.1,277.1) rotate(52)" class="cl" text-anchor="middle" dy="3.9">3</text>
<text transform="translate(181.2,269.2) rotate(60)" class="cl" text-anchor="middle" dy="3.9">3.5</text>
<text transform="translate(194.5,252.2) rotate(-90)" class="cl" text-anchor="middle" dy="3.9">2.5</text>
<text transform="translate(195.5,292.2) rotate(-90)" class="cl" text-anchor="middle" dy="3.9">2</text>
<line x1="349.3" y1="207.2" x2="349.3" y2="301.2" stroke="#222" stroke-width="1.3"/>
<text transform="translate(292.5,209.8) rotate(77)" class="cl" text-anchor="middle" dy="3.9">2</text>
<text transform="translate(322.6,234.2) rotate(-45)" class="cl" text-anchor="middle" dy="3.9">2.5</text>
<text transform="translate(325.2,272.1) rotate(49)" class="cl" text-anchor="middle" dy="3.9">2</text>
<text transform="translate(346.6,241.2) rotate(-80)" class="cl" text-anchor="middle" dy="3.9">3</text>
<text transform="translate(347.2,212.8) rotate(-32)" class="cl" text-anchor="middle" dy="3.9">3</text>
<line x1="502.5" y1="174.2" x2="502.5" y2="180.2" stroke="#222" stroke-width="1.3"/>
<line x1="502.5" y1="210.2" x2="502.5" y2="301.2" stroke="#222" stroke-width="1.3"/>
<text transform="translate(462.1,193.2) rotate(38)" class="cl" text-anchor="middle" dy="3.9">2</text>
<text transform="translate(454.0,205.9) rotate(-63)" class="cl" text-anchor="middle" dy="3.9">2.5</text>
<text transform="translate(452.3,230.1) rotate(39)" class="cl" text-anchor="middle" dy="3.9">2</text>
<text transform="translate(477.8,259.3) rotate(73)" class="cl" text-anchor="middle" dy="3.9">2.5</text>
<text transform="translate(488.8,239.2) rotate(-60)" class="cl" text-anchor="middle" dy="3.9">3</text>
<text transform="translate(488.2,290.9) rotate(63)" class="cl" text-anchor="middle" dy="3.9">2</text>
<text transform="translate(498.8,264.2) rotate(-90)" class="cl" text-anchor="middle" dy="3.9">3</text>
<line x1="655.7" y1="189.2" x2="655.7" y2="301.2" stroke="#222" stroke-width="1.3"/>
<text transform="translate(637.1,175.2) rotate(33)" class="cl" text-anchor="middle" dy="3.9">2</text>
<text transform="translate(650.1,183.1) rotate(-28)" class="cl" text-anchor="middle" dy="3.9">2</text>
<text transform="translate(605.0,187.1) rotate(-32)" class="cl" text-anchor="middle" dy="3.9">2.5</text>
<text transform="translate(600.6,208.8) rotate(-79)" class="cl" text-anchor="middle" dy="3.9">3</text>
<text transform="translate(646.0,208.8) rotate(38)" class="cl" text-anchor="middle" dy="3.9">3.5</text>
<text transform="translate(633.0,234.2) rotate(-30)" class="cl" text-anchor="middle" dy="3.9">4</text>
<text transform="translate(596.4,245.4) rotate(45)" class="cl" text-anchor="middle" dy="3.9">2</text>
<text transform="translate(613.4,252.6) rotate(49)" class="cl" text-anchor="middle" dy="3.9">2.5</text>
<text transform="translate(623.2,248.0) rotate(43)" class="cl" text-anchor="middle" dy="3.9">3.5</text>
<text transform="translate(634.0,265.3) rotate(39)" class="cl" text-anchor="middle" dy="3.9">3</text>
<text transform="translate(650.0,247.4) rotate(-78)" class="cl" text-anchor="middle" dy="3.9">4</text>
<text transform="translate(641.6,290.9) rotate(68)" class="cl" text-anchor="middle" dy="3.9">2</text>
<text transform="translate(654.0,274.2) rotate(-90)" class="cl" text-anchor="middle" dy="3.9">3</text>
<rect x="664.2" y="294.19" width="5.8" height="7.41" fill="#1c00eb"/>
<rect x="664.2" y="287.07" width="5.8" height="7.41" fill="#1e06ee"/>
<rect x="664.2" y="279.96" width="5.8" height="7.41" fill="#200ef0"/>
<rect x="664.2" y="272.85" width="5.8" height="7.41" fill="#241cf2"/>
<rect x="664.2" y="265.74" width="5.8" height="7.41" fill="#2a32f4"/>
<rect x="664.2" y="258.62" width="5.8" height="7.41" fill="#3248f5"/>
<rect x="664.2" y="251.51" width="5.8" height="7.41" fill="#3c60f5"/>
<rect x="664.2" y="244.40" width="5.8" height="7.41" fill="#4878f6"/>
<rect x="664.2" y="237.29" width="5.8" height="7.41" fill="#548ef6"/>
<rect x="664.2" y="230.18" width="5.8" height="7.41" fill="#5fa0f6"/>
<rect x="664.2" y="223.06" width="5.8" height="7.41" fill="#68b2f6"/>
<rect x="664.2" y="215.95" width="5.8" height="7.41" fill="#70c0f7"/>
<rect x="664.2" y="208.84" width="5.8" height="7.41" fill="#78cef8"/>
<rect x="664.2" y="201.73" width="5.8" height="7.41" fill="#82dcf9"/>
<rect x="664.2" y="194.61" width="5.8" height="7.41" fill="#8ee8fa"/>
<rect x="664.2" y="187.50" width="5.8" height="7.41" fill="#9cf0fa"/>
<rect x="664.2" y="180.39" width="5.8" height="7.41" fill="#acf5fb"/>
<rect x="664.2" y="173.28" width="5.8" height="7.41" fill="#c0f9fc"/>
<rect x="664.2" y="166.16" width="5.8" height="7.41" fill="#d6fcfc"/>
<rect x="664.2" y="159.05" width="5.8" height="7.41" fill="#ecfefc"/>
<rect x="664.2" y="151.94" width="5.8" height="7.41" fill="#fcfcee"/>
<rect x="664.2" y="144.83" width="5.8" height="7.41" fill="#fafada"/>
<rect x="664.2" y="137.71" width="5.8" height="7.41" fill="#f8f4c6"/>
<rect x="664.2" y="130.60" width="5.8" height="7.41" fill="#f6ecb0"/>
<rect x="664.2" y="123.49" width="5.8" height="7.41" fill="#f5dea0"/>
<rect x="664.2" y="116.38" width="5.8" height="7.41" fill="#f3cf94"/>
<rect x="664.2" y="109.26" width="5.8" height="7.41" fill="#f1be86"/>
<rect x="664.2" y="102.15" width="5.8" height="7.41" fill="#efac78"/>
<rect x="664.2" y="95.04" width="5.8" height="7.41" fill="#ee9868"/>
<rect x="664.2" y="87.93" width="5.8" height="7.41" fill="#f0845e"/>
<rect x="664.2" y="80.81" width="5.8" height="7.41" fill="#f07254"/>
<rect x="664.2" y="73.70" width="5.8" height="7.41" fill="#f0624c"/>
<rect x="664.2" y="66.59" width="5.8" height="7.41" fill="#f53e3e"/>
<rect x="664.2" y="59.48" width="5.8" height="7.41" fill="#f6373a"/>
<rect x="664.2" y="52.36" width="5.8" height="7.41" fill="#f53037"/>
<rect x="664.2" y="45.25" width="5.8" height="7.41" fill="#ee2a36"/>
<rect x="664.2" y="38.14" width="5.8" height="7.41" fill="#de2232"/>
<rect x="664.2" y="31.03" width="5.8" height="7.41" fill="#cd1c2e"/>
<rect x="664.2" y="23.91" width="5.8" height="7.41" fill="#be1a2c"/>
<rect x="664.2" y="16.80" width="5.8" height="7.41" fill="#af182a"/>
<rect x="664.2" y="16.8" width="5.8" height="284.5" fill="none" stroke="#b4b4b4" stroke-width="0.8"/>
<line x1="668.6" y1="301.30" x2="670.0" y2="301.30" stroke="#333" stroke-width="0.7"/>
<text x="674" y="306.9" class="t">-5</text>
<line x1="668.6" y1="272.85" x2="670.0" y2="272.85" stroke="#333" stroke-width="0.7"/>
<text x="674" y="278.5" class="t">-4</text>
<line x1="668.6" y1="244.40" x2="670.0" y2="244.40" stroke="#333" stroke-width="0.7"/>
<text x="674" y="250.0" class="t">-3</text>
<line x1="668.6" y1="215.95" x2="670.0" y2="215.95" stroke="#333" stroke-width="0.7"/>
<text x="674" y="221.6" class="t">-2</text>
<line x1="668.6" y1="187.50" x2="670.0" y2="187.50" stroke="#333" stroke-width="0.7"/>
<text x="674" y="193.1" class="t">-1</text>
<line x1="668.6" y1="159.05" x2="670.0" y2="159.05" stroke="#333" stroke-width="0.7"/>
<text x="674" y="164.7" class="t">0</text>
<line x1="668.6" y1="130.60" x2="670.0" y2="130.60" stroke="#333" stroke-width="0.7"/>
<text x="674" y="136.2" class="t">1</text>
<line x1="668.6" y1="102.15" x2="670.0" y2="102.15" stroke="#333" stroke-width="0.7"/>
<text x="674" y="107.7" class="t">2</text>
<line x1="668.6" y1="73.70" x2="670.0" y2="73.70" stroke="#333" stroke-width="0.7"/>
<text x="674" y="79.3" class="t">3</text>
<line x1="668.6" y1="45.25" x2="670.0" y2="45.25" stroke="#333" stroke-width="0.7"/>
<text x="674" y="50.9" class="t">4</text>
<line x1="668.6" y1="16.80" x2="670.0" y2="16.80" stroke="#333" stroke-width="0.7"/>
<text x="674" y="22.4" class="t">5</text>
<text x="59.9" y="12.8" class="ti" textLength="104.7" lengthAdjust="spacingAndGlyphs">(a) OBS [1997-02]</text>
<text x="213.5" y="12.8" class="ti" textLength="108.9" lengthAdjust="spacingAndGlyphs">(b) CTRL [1997-02]</text>
<text x="366.7" y="12.8" class="ti" textLength="111.7" lengthAdjust="spacingAndGlyphs">(c) WPEE [1997-02]</text>
<text x="519.4" y="12.8" class="ti" textLength="118.7" lengthAdjust="spacingAndGlyphs">(d) DDPM [1997-02]</text>
<text x="60.8" y="170.3" class="ti" textLength="104.0" lengthAdjust="spacingAndGlyphs">(e) OBS [1997-05]</text>
<text x="213.5" y="170.3" class="ti" textLength="106.8" lengthAdjust="spacingAndGlyphs">(f) CTRL [1997-05]</text>
<text x="366.5" y="170.3" class="ti" textLength="113.3" lengthAdjust="spacingAndGlyphs">(g) WPEE [1997-05]</text>
<text x="519.8" y="170.3" class="ti" textLength="117.9" lengthAdjust="spacingAndGlyphs">(h) DDPM [1997-05]</text>
<text x="56.6" y="148.7" class="ty" text-anchor="end">Feb(0)</text>
<text x="56.6" y="125.5" class="ty" text-anchor="end">Apr(0)</text>
<text x="56.6" y="102.3" class="ty" text-anchor="end">Jun(0)</text>
<text x="56.6" y="79.1" class="ty" text-anchor="end">Aug(0)</text>
<text x="56.6" y="55.9" class="ty" text-anchor="end">Oct(0)</text>
<text x="56.6" y="32.7" class="ty" text-anchor="end">Dec(0)</text>
<text transform="translate(12.3,80.4) rotate(-90)" class="tm" text-anchor="middle">Target Month</text>
<text x="56.6" y="306.2" class="ty" text-anchor="end">May(0)</text>
<text x="56.6" y="283.0" class="ty" text-anchor="end">Jul(0)</text>
<text x="56.6" y="259.8" class="ty" text-anchor="end">Sep(0)</text>
<text x="56.6" y="236.6" class="ty" text-anchor="end">Nov(0)</text>
<text x="56.6" y="213.4" class="ty" text-anchor="end">Jan(1)</text>
<text x="56.6" y="190.2" class="ty" text-anchor="end">Mar(1)</text>
<text transform="translate(12.3,237.9) rotate(-90)" class="tm" text-anchor="middle">Target Month</text>
<text transform="translate(84.4,316.6) rotate(-30)" class="tx" text-anchor="end">140°E</text>
<text transform="translate(118.5,316.6) rotate(-30)" class="tx" text-anchor="end">180</text>
<text transform="translate(152.8,316.6) rotate(-30)" class="tx" text-anchor="end">140°W</text>
<text transform="translate(187.2,316.6) rotate(-30)" class="tx" text-anchor="end">100°W</text>
<text transform="translate(237.5,316.6) rotate(-30)" class="tx" text-anchor="end">140°E</text>
<text transform="translate(271.6,316.6) rotate(-30)" class="tx" text-anchor="end">180</text>
<text transform="translate(305.9,316.6) rotate(-30)" class="tx" text-anchor="end">140°W</text>
<text transform="translate(340.3,316.6) rotate(-30)" class="tx" text-anchor="end">100°W</text>
<text transform="translate(390.7,316.6) rotate(-30)" class="tx" text-anchor="end">140°E</text>
<text transform="translate(424.8,316.6) rotate(-30)" class="tx" text-anchor="end">180</text>
<text transform="translate(459.1,316.6) rotate(-30)" class="tx" text-anchor="end">140°W</text>
<text transform="translate(493.5,316.6) rotate(-30)" class="tx" text-anchor="end">100°W</text>
<text transform="translate(543.9,316.6) rotate(-30)" class="tx" text-anchor="end">140°E</text>
<text transform="translate(578.0,316.6) rotate(-30)" class="tx" text-anchor="end">180</text>
<text transform="translate(612.3,316.6) rotate(-30)" class="tx" text-anchor="end">140°W</text>
<text transform="translate(646.7,316.6) rotate(-30)" class="tx" text-anchor="end">100°W</text>
<text x="657.6" y="9.7" class="tc" textLength="19" lengthAdjust="spacingAndGlyphs">[°C]</text>
</svg></body></html>
